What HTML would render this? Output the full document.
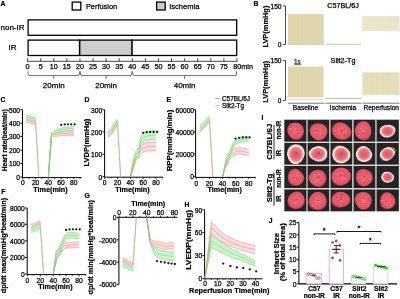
<!DOCTYPE html>
<html><head><meta charset="utf-8"><style>
html,body{margin:0;padding:0;background:#fff;}
body{width:400px;height:299px;overflow:hidden;}
svg{display:block;font-family:"Liberation Sans", sans-serif;filter:blur(0.3px);}
</style></head><body>
<svg width="400" height="299" viewBox="0 0 400 299">
<defs><radialGradient id="gN" cx="50%" cy="48%" r="50%">
<stop offset="0" stop-color="#ea6a77"/><stop offset="0.6" stop-color="#e55b69"/><stop offset="0.9" stop-color="#de5263"/><stop offset="1" stop-color="#a03444"/></radialGradient>
<radialGradient id="gN2" cx="50%" cy="48%" r="50%">
<stop offset="0" stop-color="#e45c6a"/><stop offset="0.55" stop-color="#ec7884"/><stop offset="0.85" stop-color="#f0a0a4"/><stop offset="1" stop-color="#b0606a"/></radialGradient>
<radialGradient id="gI" cx="50%" cy="50%" r="50%">
<stop offset="0" stop-color="#e25464"/><stop offset="0.5" stop-color="#e76a77"/><stop offset="0.7" stop-color="#ee9498"/><stop offset="0.8" stop-color="#f5d4cc"/><stop offset="0.94" stop-color="#f5e6de"/><stop offset="1" stop-color="#8a7a74"/></radialGradient></defs>
<rect width="400" height="299" fill="#fff"/>
<text x="0.40" y="3.45" font-size="6.8" text-anchor="start" dominant-baseline="central" fill="#000" font-weight="bold" stroke="#000" stroke-width="0.2">A</text>
<rect x="72.20" y="2.10" width="8.60" height="7.90" fill="#fff" stroke="#000" stroke-width="1.3"/>
<text x="85.90" y="6.20" font-size="7.8" text-anchor="start" dominant-baseline="central" fill="#000" stroke="#000" stroke-width="0.25" textLength="31.3" lengthAdjust="spacingAndGlyphs">Perfusion</text>
<rect x="156.60" y="2.10" width="8.60" height="7.90" fill="#cdcdcd" stroke="#000" stroke-width="1.3"/>
<text x="169.20" y="6.20" font-size="7.8" text-anchor="start" dominant-baseline="central" fill="#000" stroke="#000" stroke-width="0.25" textLength="30.2" lengthAdjust="spacingAndGlyphs">Ischemia</text>
<text x="24.50" y="27.60" font-size="8" text-anchor="end" dominant-baseline="central" fill="#000" stroke="#000" stroke-width="0.25">non-IR</text>
<rect x="28.10" y="19.90" width="208.60" height="15.40" fill="#fff" stroke="#000" stroke-width="1.3"/>
<text x="12.50" y="47.70" font-size="8" text-anchor="middle" dominant-baseline="central" fill="#000" stroke="#000" stroke-width="0.25">IR</text>
<rect x="79.60" y="40.10" width="52.40" height="15.20" fill="#cecece" stroke="none" stroke-width="1"/>
<rect x="28.10" y="40.10" width="208.60" height="15.40" fill="none" stroke="#000" stroke-width="1.3"/>
<line x1="79.60" y1="39.50" x2="79.60" y2="56.00" stroke="#000" stroke-width="1.6"/>
<line x1="132.00" y1="39.50" x2="132.00" y2="56.00" stroke="#000" stroke-width="1.6"/>
<line x1="27.40" y1="61.30" x2="237.20" y2="61.30" stroke="#333" stroke-width="0.9"/>
<line x1="27.60" y1="58.20" x2="27.60" y2="61.60" stroke="#333" stroke-width="0.9"/>
<line x1="40.69" y1="58.20" x2="40.69" y2="61.60" stroke="#333" stroke-width="0.9"/>
<line x1="53.77" y1="58.20" x2="53.77" y2="61.60" stroke="#333" stroke-width="0.9"/>
<line x1="66.86" y1="58.20" x2="66.86" y2="61.60" stroke="#333" stroke-width="0.9"/>
<line x1="79.94" y1="58.20" x2="79.94" y2="61.60" stroke="#333" stroke-width="0.9"/>
<line x1="93.03" y1="58.20" x2="93.03" y2="61.60" stroke="#333" stroke-width="0.9"/>
<line x1="106.11" y1="58.20" x2="106.11" y2="61.60" stroke="#333" stroke-width="0.9"/>
<line x1="119.19" y1="58.20" x2="119.19" y2="61.60" stroke="#333" stroke-width="0.9"/>
<line x1="132.28" y1="58.20" x2="132.28" y2="61.60" stroke="#333" stroke-width="0.9"/>
<line x1="145.37" y1="58.20" x2="145.37" y2="61.60" stroke="#333" stroke-width="0.9"/>
<line x1="158.45" y1="58.20" x2="158.45" y2="61.60" stroke="#333" stroke-width="0.9"/>
<line x1="171.53" y1="58.20" x2="171.53" y2="61.60" stroke="#333" stroke-width="0.9"/>
<line x1="184.62" y1="58.20" x2="184.62" y2="61.60" stroke="#333" stroke-width="0.9"/>
<line x1="197.70" y1="58.20" x2="197.70" y2="61.60" stroke="#333" stroke-width="0.9"/>
<line x1="210.79" y1="58.20" x2="210.79" y2="61.60" stroke="#333" stroke-width="0.9"/>
<line x1="223.88" y1="58.20" x2="223.88" y2="61.60" stroke="#333" stroke-width="0.9"/>
<line x1="236.96" y1="58.20" x2="236.96" y2="61.60" stroke="#333" stroke-width="0.9"/>
<text x="27.60" y="66.50" font-size="7.2" text-anchor="middle" dominant-baseline="central" fill="#000" stroke="#000" stroke-width="0.25">0</text>
<text x="40.69" y="66.50" font-size="7.2" text-anchor="middle" dominant-baseline="central" fill="#000" stroke="#000" stroke-width="0.25">5</text>
<text x="53.77" y="66.50" font-size="7.2" text-anchor="middle" dominant-baseline="central" fill="#000" stroke="#000" stroke-width="0.25">10</text>
<text x="66.86" y="66.50" font-size="7.2" text-anchor="middle" dominant-baseline="central" fill="#000" stroke="#000" stroke-width="0.25">15</text>
<text x="79.94" y="66.50" font-size="7.2" text-anchor="middle" dominant-baseline="central" fill="#000" stroke="#000" stroke-width="0.25">20</text>
<text x="93.03" y="66.50" font-size="7.2" text-anchor="middle" dominant-baseline="central" fill="#000" stroke="#000" stroke-width="0.25">25</text>
<text x="106.11" y="66.50" font-size="7.2" text-anchor="middle" dominant-baseline="central" fill="#000" stroke="#000" stroke-width="0.25">30</text>
<text x="119.19" y="66.50" font-size="7.2" text-anchor="middle" dominant-baseline="central" fill="#000" stroke="#000" stroke-width="0.25">35</text>
<text x="132.28" y="66.50" font-size="7.2" text-anchor="middle" dominant-baseline="central" fill="#000" stroke="#000" stroke-width="0.25">40</text>
<text x="145.37" y="66.50" font-size="7.2" text-anchor="middle" dominant-baseline="central" fill="#000" stroke="#000" stroke-width="0.25">45</text>
<text x="158.45" y="66.50" font-size="7.2" text-anchor="middle" dominant-baseline="central" fill="#000" stroke="#000" stroke-width="0.25">50</text>
<text x="171.53" y="66.50" font-size="7.2" text-anchor="middle" dominant-baseline="central" fill="#000" stroke="#000" stroke-width="0.25">55</text>
<text x="184.62" y="66.50" font-size="7.2" text-anchor="middle" dominant-baseline="central" fill="#000" stroke="#000" stroke-width="0.25">60</text>
<text x="197.70" y="66.50" font-size="7.2" text-anchor="middle" dominant-baseline="central" fill="#000" stroke="#000" stroke-width="0.25">65</text>
<text x="210.79" y="66.50" font-size="7.2" text-anchor="middle" dominant-baseline="central" fill="#000" stroke="#000" stroke-width="0.25">70</text>
<text x="223.88" y="66.50" font-size="7.2" text-anchor="middle" dominant-baseline="central" fill="#000" stroke="#000" stroke-width="0.25">75</text>
<text x="233.36" y="66.50" font-size="7.2" text-anchor="start" dominant-baseline="central" fill="#000" stroke="#000" stroke-width="0.25">80min</text>
<path d="M28.10,71.3 L28.10,74.0 Q28.10,75.6 29.90,75.6 L77.64,75.6 Q79.44,75.6 79.44,74.0 L79.44,71.3" fill="none" stroke="#555" stroke-width="0.85"/>
<line x1="53.77" y1="75.60" x2="53.77" y2="78.90" stroke="#555" stroke-width="0.85"/>
<text x="53.77" y="85.40" font-size="8" text-anchor="middle" dominant-baseline="central" fill="#000" stroke="#000" stroke-width="0.25">20min</text>
<path d="M80.44,71.3 L80.44,74.0 Q80.44,75.6 82.24,75.6 L129.98,75.6 Q131.78,75.6 131.78,74.0 L131.78,71.3" fill="none" stroke="#555" stroke-width="0.85"/>
<line x1="106.11" y1="75.60" x2="106.11" y2="78.90" stroke="#555" stroke-width="0.85"/>
<text x="106.11" y="85.40" font-size="8" text-anchor="middle" dominant-baseline="central" fill="#000" stroke="#000" stroke-width="0.25">20min</text>
<path d="M132.78,71.3 L132.78,74.0 Q132.78,75.6 134.58,75.6 L234.66,75.6 Q236.46,75.6 236.46,74.0 L236.46,71.3" fill="none" stroke="#555" stroke-width="0.85"/>
<line x1="184.62" y1="75.60" x2="184.62" y2="78.90" stroke="#555" stroke-width="0.85"/>
<text x="184.62" y="85.40" font-size="8" text-anchor="middle" dominant-baseline="central" fill="#000" stroke="#000" stroke-width="0.25">40min</text>
<text x="253.60" y="3.35" font-size="6.8" text-anchor="start" dominant-baseline="central" fill="#000" font-weight="bold" stroke="#000" stroke-width="0.2">B</text>
<line x1="285.50" y1="6.00" x2="285.50" y2="44.50" stroke="#333" stroke-width="0.9"/>
<line x1="282.80" y1="6.00" x2="285.50" y2="6.00" stroke="#333" stroke-width="0.9"/>
<line x1="282.80" y1="44.50" x2="285.50" y2="44.50" stroke="#333" stroke-width="0.9"/>
<text x="281.50" y="6.30" font-size="6.6" text-anchor="end" dominant-baseline="central" fill="#000" stroke="#000" stroke-width="0.25">150</text>
<text x="281.50" y="44.80" font-size="6.6" text-anchor="end" dominant-baseline="central" fill="#000" stroke="#000" stroke-width="0.25">0</text>
<text x="265.40" y="26.60" font-size="7.4" text-anchor="middle" dominant-baseline="central" fill="#000" font-weight="bold" stroke="#000" stroke-width="0.2" transform="rotate(-90 265.40 26.60)" textLength="42" lengthAdjust="spacingAndGlyphs">LVP(mmHg)</text>
<line x1="285.50" y1="60.40" x2="285.50" y2="100.40" stroke="#333" stroke-width="0.9"/>
<line x1="282.80" y1="60.40" x2="285.50" y2="60.40" stroke="#333" stroke-width="0.9"/>
<line x1="282.80" y1="100.40" x2="285.50" y2="100.40" stroke="#333" stroke-width="0.9"/>
<text x="281.50" y="60.70" font-size="6.6" text-anchor="end" dominant-baseline="central" fill="#000" stroke="#000" stroke-width="0.25">150</text>
<text x="281.50" y="100.70" font-size="6.6" text-anchor="end" dominant-baseline="central" fill="#000" stroke="#000" stroke-width="0.25">0</text>
<text x="265.40" y="81.80" font-size="7.4" text-anchor="middle" dominant-baseline="central" fill="#000" font-weight="bold" stroke="#000" stroke-width="0.2" transform="rotate(-90 265.40 81.80)" textLength="42" lengthAdjust="spacingAndGlyphs">LVP(mmHg)</text>
<text x="343.00" y="5.20" font-size="7.2" text-anchor="middle" dominant-baseline="central" fill="#000" stroke="#000" stroke-width="0.25">C57BL/6J</text>
<text x="343.00" y="60.20" font-size="7.2" text-anchor="middle" dominant-baseline="central" fill="#000" stroke="#000" stroke-width="0.25">Slit2-Tg</text>
<text x="297.40" y="61.50" font-size="6.4" text-anchor="middle" dominant-baseline="central" fill="#333" stroke="#333" stroke-width="0.25">1s</text>
<line x1="294.40" y1="64.70" x2="301.40" y2="64.70" stroke="#333" stroke-width="0.7"/>
<rect x="288.00" y="14.00" width="35.80" height="31.20" fill="#e0d8b0" stroke="none" stroke-width="1"/>
<line x1="288.80" y1="14.00" x2="288.80" y2="45.20" stroke="#d8cfa2" stroke-width="0.35"/>
<line x1="291.00" y1="14.00" x2="291.00" y2="45.20" stroke="#d8cfa2" stroke-width="0.35"/>
<line x1="293.20" y1="14.00" x2="293.20" y2="45.20" stroke="#d8cfa2" stroke-width="0.35"/>
<line x1="295.40" y1="14.00" x2="295.40" y2="45.20" stroke="#d8cfa2" stroke-width="0.35"/>
<line x1="297.60" y1="14.00" x2="297.60" y2="45.20" stroke="#d8cfa2" stroke-width="0.35"/>
<line x1="299.80" y1="14.00" x2="299.80" y2="45.20" stroke="#d8cfa2" stroke-width="0.35"/>
<line x1="302.00" y1="14.00" x2="302.00" y2="45.20" stroke="#d8cfa2" stroke-width="0.35"/>
<line x1="304.20" y1="14.00" x2="304.20" y2="45.20" stroke="#d8cfa2" stroke-width="0.35"/>
<line x1="306.40" y1="14.00" x2="306.40" y2="45.20" stroke="#d8cfa2" stroke-width="0.35"/>
<line x1="308.60" y1="14.00" x2="308.60" y2="45.20" stroke="#d8cfa2" stroke-width="0.35"/>
<line x1="310.80" y1="14.00" x2="310.80" y2="45.20" stroke="#d8cfa2" stroke-width="0.35"/>
<line x1="313.00" y1="14.00" x2="313.00" y2="45.20" stroke="#d8cfa2" stroke-width="0.35"/>
<line x1="315.20" y1="14.00" x2="315.20" y2="45.20" stroke="#d8cfa2" stroke-width="0.35"/>
<line x1="317.40" y1="14.00" x2="317.40" y2="45.20" stroke="#d8cfa2" stroke-width="0.35"/>
<line x1="319.60" y1="14.00" x2="319.60" y2="45.20" stroke="#d8cfa2" stroke-width="0.35"/>
<line x1="321.80" y1="14.00" x2="321.80" y2="45.20" stroke="#d8cfa2" stroke-width="0.35"/>
<line x1="326.00" y1="44.30" x2="361.20" y2="44.30" stroke="#bdb48a" stroke-width="0.8"/>
<rect x="362.40" y="16.10" width="37.20" height="14.80" fill="#ede8cc" stroke="none" stroke-width="1"/>
<line x1="363.20" y1="16.10" x2="363.20" y2="30.90" stroke="#e3ddbc" stroke-width="0.35"/>
<line x1="365.40" y1="16.10" x2="365.40" y2="30.90" stroke="#e3ddbc" stroke-width="0.35"/>
<line x1="367.60" y1="16.10" x2="367.60" y2="30.90" stroke="#e3ddbc" stroke-width="0.35"/>
<line x1="369.80" y1="16.10" x2="369.80" y2="30.90" stroke="#e3ddbc" stroke-width="0.35"/>
<line x1="372.00" y1="16.10" x2="372.00" y2="30.90" stroke="#e3ddbc" stroke-width="0.35"/>
<line x1="374.20" y1="16.10" x2="374.20" y2="30.90" stroke="#e3ddbc" stroke-width="0.35"/>
<line x1="376.40" y1="16.10" x2="376.40" y2="30.90" stroke="#e3ddbc" stroke-width="0.35"/>
<line x1="378.60" y1="16.10" x2="378.60" y2="30.90" stroke="#e3ddbc" stroke-width="0.35"/>
<line x1="380.80" y1="16.10" x2="380.80" y2="30.90" stroke="#e3ddbc" stroke-width="0.35"/>
<line x1="383.00" y1="16.10" x2="383.00" y2="30.90" stroke="#e3ddbc" stroke-width="0.35"/>
<line x1="385.20" y1="16.10" x2="385.20" y2="30.90" stroke="#e3ddbc" stroke-width="0.35"/>
<line x1="387.40" y1="16.10" x2="387.40" y2="30.90" stroke="#e3ddbc" stroke-width="0.35"/>
<line x1="389.60" y1="16.10" x2="389.60" y2="30.90" stroke="#e3ddbc" stroke-width="0.35"/>
<line x1="391.80" y1="16.10" x2="391.80" y2="30.90" stroke="#e3ddbc" stroke-width="0.35"/>
<line x1="394.00" y1="16.10" x2="394.00" y2="30.90" stroke="#e3ddbc" stroke-width="0.35"/>
<line x1="396.20" y1="16.10" x2="396.20" y2="30.90" stroke="#e3ddbc" stroke-width="0.35"/>
<line x1="398.40" y1="16.10" x2="398.40" y2="30.90" stroke="#e3ddbc" stroke-width="0.35"/>
<rect x="288.00" y="66.60" width="35.60" height="30.80" fill="#e0d8b0" stroke="none" stroke-width="1"/>
<line x1="288.80" y1="66.60" x2="288.80" y2="97.40" stroke="#d8cfa2" stroke-width="0.35"/>
<line x1="291.00" y1="66.60" x2="291.00" y2="97.40" stroke="#d8cfa2" stroke-width="0.35"/>
<line x1="293.20" y1="66.60" x2="293.20" y2="97.40" stroke="#d8cfa2" stroke-width="0.35"/>
<line x1="295.40" y1="66.60" x2="295.40" y2="97.40" stroke="#d8cfa2" stroke-width="0.35"/>
<line x1="297.60" y1="66.60" x2="297.60" y2="97.40" stroke="#d8cfa2" stroke-width="0.35"/>
<line x1="299.80" y1="66.60" x2="299.80" y2="97.40" stroke="#d8cfa2" stroke-width="0.35"/>
<line x1="302.00" y1="66.60" x2="302.00" y2="97.40" stroke="#d8cfa2" stroke-width="0.35"/>
<line x1="304.20" y1="66.60" x2="304.20" y2="97.40" stroke="#d8cfa2" stroke-width="0.35"/>
<line x1="306.40" y1="66.60" x2="306.40" y2="97.40" stroke="#d8cfa2" stroke-width="0.35"/>
<line x1="308.60" y1="66.60" x2="308.60" y2="97.40" stroke="#d8cfa2" stroke-width="0.35"/>
<line x1="310.80" y1="66.60" x2="310.80" y2="97.40" stroke="#d8cfa2" stroke-width="0.35"/>
<line x1="313.00" y1="66.60" x2="313.00" y2="97.40" stroke="#d8cfa2" stroke-width="0.35"/>
<line x1="315.20" y1="66.60" x2="315.20" y2="97.40" stroke="#d8cfa2" stroke-width="0.35"/>
<line x1="317.40" y1="66.60" x2="317.40" y2="97.40" stroke="#d8cfa2" stroke-width="0.35"/>
<line x1="319.60" y1="66.60" x2="319.60" y2="97.40" stroke="#d8cfa2" stroke-width="0.35"/>
<line x1="321.80" y1="66.60" x2="321.80" y2="97.40" stroke="#d8cfa2" stroke-width="0.35"/>
<line x1="288.00" y1="99.40" x2="323.60" y2="99.40" stroke="#c9c3a0" stroke-width="0.6"/>
<line x1="325.50" y1="98.50" x2="361.20" y2="98.50" stroke="#bdb48a" stroke-width="0.8"/>
<rect x="362.50" y="72.40" width="37.10" height="22.50" fill="#e6dfbb" stroke="none" stroke-width="1"/>
<line x1="363.30" y1="72.40" x2="363.30" y2="94.90" stroke="#ddd6ae" stroke-width="0.35"/>
<line x1="365.50" y1="72.40" x2="365.50" y2="94.90" stroke="#ddd6ae" stroke-width="0.35"/>
<line x1="367.70" y1="72.40" x2="367.70" y2="94.90" stroke="#ddd6ae" stroke-width="0.35"/>
<line x1="369.90" y1="72.40" x2="369.90" y2="94.90" stroke="#ddd6ae" stroke-width="0.35"/>
<line x1="372.10" y1="72.40" x2="372.10" y2="94.90" stroke="#ddd6ae" stroke-width="0.35"/>
<line x1="374.30" y1="72.40" x2="374.30" y2="94.90" stroke="#ddd6ae" stroke-width="0.35"/>
<line x1="376.50" y1="72.40" x2="376.50" y2="94.90" stroke="#ddd6ae" stroke-width="0.35"/>
<line x1="378.70" y1="72.40" x2="378.70" y2="94.90" stroke="#ddd6ae" stroke-width="0.35"/>
<line x1="380.90" y1="72.40" x2="380.90" y2="94.90" stroke="#ddd6ae" stroke-width="0.35"/>
<line x1="383.10" y1="72.40" x2="383.10" y2="94.90" stroke="#ddd6ae" stroke-width="0.35"/>
<line x1="385.30" y1="72.40" x2="385.30" y2="94.90" stroke="#ddd6ae" stroke-width="0.35"/>
<line x1="387.50" y1="72.40" x2="387.50" y2="94.90" stroke="#ddd6ae" stroke-width="0.35"/>
<line x1="389.70" y1="72.40" x2="389.70" y2="94.90" stroke="#ddd6ae" stroke-width="0.35"/>
<line x1="391.90" y1="72.40" x2="391.90" y2="94.90" stroke="#ddd6ae" stroke-width="0.35"/>
<line x1="394.10" y1="72.40" x2="394.10" y2="94.90" stroke="#ddd6ae" stroke-width="0.35"/>
<line x1="396.30" y1="72.40" x2="396.30" y2="94.90" stroke="#ddd6ae" stroke-width="0.35"/>
<line x1="398.50" y1="72.40" x2="398.50" y2="94.90" stroke="#ddd6ae" stroke-width="0.35"/>
<line x1="288.00" y1="103.20" x2="324.20" y2="103.20" stroke="#555" stroke-width="0.8"/>
<line x1="325.30" y1="103.20" x2="361.50" y2="103.20" stroke="#555" stroke-width="0.8"/>
<line x1="362.60" y1="103.20" x2="399.50" y2="103.20" stroke="#555" stroke-width="0.8"/>
<text x="305.50" y="107.90" font-size="6.6" text-anchor="middle" dominant-baseline="central" fill="#000" stroke="#000" stroke-width="0.25">Baseline</text>
<text x="343.00" y="107.90" font-size="6.6" text-anchor="middle" dominant-baseline="central" fill="#000" stroke="#000" stroke-width="0.25">Ischemia</text>
<text x="381.20" y="107.90" font-size="6.6" text-anchor="middle" dominant-baseline="central" fill="#000" stroke="#000" stroke-width="0.25">Reperfusion</text>
<text x="0.40" y="99.45" font-size="6.8" text-anchor="start" dominant-baseline="central" fill="#000" font-weight="bold" stroke="#000" stroke-width="0.2">C</text>
<line x1="22.50" y1="109.70" x2="22.50" y2="177.60" stroke="#000" stroke-width="1.0"/>
<line x1="20.30" y1="109.70" x2="22.50" y2="109.70" stroke="#000" stroke-width="0.9"/>
<text x="20.10" y="110.00" font-size="6.7" text-anchor="end" dominant-baseline="central" fill="#000" stroke="#000" stroke-width="0.25">500</text>
<line x1="20.30" y1="123.20" x2="22.50" y2="123.20" stroke="#000" stroke-width="0.9"/>
<text x="20.10" y="123.50" font-size="6.7" text-anchor="end" dominant-baseline="central" fill="#000" stroke="#000" stroke-width="0.25">400</text>
<line x1="20.30" y1="136.60" x2="22.50" y2="136.60" stroke="#000" stroke-width="0.9"/>
<text x="20.10" y="136.90" font-size="6.7" text-anchor="end" dominant-baseline="central" fill="#000" stroke="#000" stroke-width="0.25">300</text>
<line x1="20.30" y1="150.10" x2="22.50" y2="150.10" stroke="#000" stroke-width="0.9"/>
<text x="20.10" y="150.40" font-size="6.7" text-anchor="end" dominant-baseline="central" fill="#000" stroke="#000" stroke-width="0.25">200</text>
<line x1="20.30" y1="163.50" x2="22.50" y2="163.50" stroke="#000" stroke-width="0.9"/>
<text x="20.10" y="163.80" font-size="6.7" text-anchor="end" dominant-baseline="central" fill="#000" stroke="#000" stroke-width="0.25">100</text>
<line x1="20.30" y1="177.00" x2="22.50" y2="177.00" stroke="#000" stroke-width="0.9"/>
<text x="20.10" y="177.30" font-size="6.7" text-anchor="end" dominant-baseline="central" fill="#000" stroke="#000" stroke-width="0.25">0</text>
<line x1="22.50" y1="177.60" x2="81.50" y2="177.60" stroke="#000" stroke-width="1.0"/>
<line x1="22.90" y1="177.60" x2="22.90" y2="179.40" stroke="#000" stroke-width="0.8"/>
<line x1="29.26" y1="177.60" x2="29.26" y2="178.70" stroke="#000" stroke-width="0.8"/>
<line x1="35.62" y1="177.60" x2="35.62" y2="179.40" stroke="#000" stroke-width="0.8"/>
<line x1="41.98" y1="177.60" x2="41.98" y2="178.70" stroke="#000" stroke-width="0.8"/>
<line x1="48.34" y1="177.60" x2="48.34" y2="179.40" stroke="#000" stroke-width="0.8"/>
<line x1="54.70" y1="177.60" x2="54.70" y2="178.70" stroke="#000" stroke-width="0.8"/>
<line x1="61.06" y1="177.60" x2="61.06" y2="179.40" stroke="#000" stroke-width="0.8"/>
<line x1="67.42" y1="177.60" x2="67.42" y2="178.70" stroke="#000" stroke-width="0.8"/>
<line x1="73.78" y1="177.60" x2="73.78" y2="179.40" stroke="#000" stroke-width="0.8"/>
<line x1="80.14" y1="177.60" x2="80.14" y2="178.70" stroke="#000" stroke-width="0.8"/>
<text x="22.90" y="182.60" font-size="6.7" text-anchor="middle" dominant-baseline="central" fill="#000" stroke="#000" stroke-width="0.25">0</text>
<text x="35.62" y="182.60" font-size="6.7" text-anchor="middle" dominant-baseline="central" fill="#000" stroke="#000" stroke-width="0.25">20</text>
<text x="48.34" y="182.60" font-size="6.7" text-anchor="middle" dominant-baseline="central" fill="#000" stroke="#000" stroke-width="0.25">40</text>
<text x="61.06" y="182.60" font-size="6.7" text-anchor="middle" dominant-baseline="central" fill="#000" stroke="#000" stroke-width="0.25">60</text>
<text x="73.78" y="182.60" font-size="6.7" text-anchor="middle" dominant-baseline="central" fill="#000" stroke="#000" stroke-width="0.25">80</text>
<text x="50.50" y="189.60" font-size="7.1" text-anchor="middle" dominant-baseline="central" fill="#000" font-weight="bold" stroke="#000" stroke-width="0.2" textLength="34.4" lengthAdjust="spacingAndGlyphs">Time(min)</text>
<text x="4.10" y="140.20" font-size="7.2" text-anchor="middle" dominant-baseline="central" fill="#000" font-weight="bold" stroke="#000" stroke-width="0.2" transform="rotate(-90 4.10 140.20)" textLength="62" lengthAdjust="spacingAndGlyphs">Heart rate(beat/min)</text>
<path d="M26.08,118.60 L29.26,119.47 L32.44,120.33 L35.62,121.20 L35.62,124.60 L32.44,123.73 L29.26,122.87 L26.08,122.00 Z" fill="#fbd8da" stroke="none" stroke-width="1" fill-opacity="0.85"/>
<path d="M26.08,118.60 L29.26,119.47 L32.44,120.33 L35.62,121.20" fill="none" stroke="#e48c94" stroke-width="0.6" stroke-linejoin="round"/>
<path d="M26.08,122.00 L29.26,122.87 L32.44,123.73 L35.62,124.60" fill="none" stroke="#e48c94" stroke-width="0.6" stroke-linejoin="round"/>
<path d="M26.08,120.30 L29.26,121.17 L32.44,122.03 L35.62,122.90" fill="none" stroke="#e48c94" stroke-width="0.6" stroke-linejoin="round"/>
<path d="M35.62,122.90 L38.80,177.30" fill="none" stroke="#e48c94" stroke-width="0.6"/>
<path d="M48.34,177.30 L51.52,133.80 L54.70,132.40 L57.88,132.00 L61.06,131.80 L64.24,131.70 L67.42,131.70 L70.60,131.70 L73.78,131.70 L73.78,135.70 L70.60,135.70 L67.42,135.70 L64.24,135.70 L61.06,135.80 L57.88,136.00 L54.70,136.40 L51.52,136.20 L48.34,177.30 Z" fill="#fbd8da" stroke="none" stroke-width="1" fill-opacity="0.85"/>
<path d="M48.34,177.30 L51.52,133.80 L54.70,132.40 L57.88,132.00 L61.06,131.80 L64.24,131.70 L67.42,131.70 L70.60,131.70 L73.78,131.70" fill="none" stroke="#e48c94" stroke-width="0.6" stroke-linejoin="round"/>
<path d="M48.34,177.30 L51.52,136.20 L54.70,136.40 L57.88,136.00 L61.06,135.80 L64.24,135.70 L67.42,135.70 L70.60,135.70 L73.78,135.70" fill="none" stroke="#e48c94" stroke-width="0.6" stroke-linejoin="round"/>
<path d="M48.34,177.30 L51.52,135.00 L54.70,134.40 L57.88,134.00 L61.06,133.80 L64.24,133.70 L67.42,133.70 L70.60,133.70 L73.78,133.70" fill="none" stroke="#e48c94" stroke-width="0.6" stroke-linejoin="round"/>
<path d="M26.08,114.90 L29.26,115.77 L32.44,116.63 L35.62,117.50 L35.62,121.50 L32.44,120.63 L29.26,119.77 L26.08,118.90 Z" fill="#c4f3c4" stroke="none" stroke-width="1" fill-opacity="0.85"/>
<path d="M26.08,114.90 L29.26,115.77 L32.44,116.63 L35.62,117.50" fill="none" stroke="#72d872" stroke-width="0.6" stroke-linejoin="round"/>
<path d="M26.08,118.90 L29.26,119.77 L32.44,120.63 L35.62,121.50" fill="none" stroke="#72d872" stroke-width="0.6" stroke-linejoin="round"/>
<path d="M26.08,116.90 L29.26,117.77 L32.44,118.63 L35.62,119.50" fill="none" stroke="#72d872" stroke-width="0.6" stroke-linejoin="round"/>
<path d="M35.62,119.50 L38.80,177.30" fill="none" stroke="#72d872" stroke-width="0.6"/>
<path d="M48.34,177.30 L51.52,133.46 L54.70,130.70 L57.88,129.10 L61.06,128.10 L64.24,127.40 L67.42,127.00 L70.60,126.70 L73.78,126.60 L73.78,130.40 L70.60,130.50 L67.42,130.80 L64.24,131.20 L61.06,131.90 L57.88,132.90 L54.70,134.50 L51.52,135.74 L48.34,177.30 Z" fill="#c4f3c4" stroke="none" stroke-width="1" fill-opacity="0.85"/>
<path d="M48.34,177.30 L51.52,133.46 L54.70,130.70 L57.88,129.10 L61.06,128.10 L64.24,127.40 L67.42,127.00 L70.60,126.70 L73.78,126.60" fill="none" stroke="#72d872" stroke-width="0.6" stroke-linejoin="round"/>
<path d="M48.34,177.30 L51.52,135.74 L54.70,134.50 L57.88,132.90 L61.06,131.90 L64.24,131.20 L67.42,130.80 L70.60,130.50 L73.78,130.40" fill="none" stroke="#72d872" stroke-width="0.6" stroke-linejoin="round"/>
<path d="M48.34,177.30 L51.52,134.60 L54.70,132.60 L57.88,131.00 L61.06,130.00 L64.24,129.30 L67.42,128.90 L70.60,128.60 L73.78,128.50" fill="none" stroke="#72d872" stroke-width="0.6" stroke-linejoin="round"/>
<circle cx="61.20" cy="124.90" r="1.15" fill="#1a1a1a" stroke="none" stroke-width="1"/>
<circle cx="64.70" cy="124.40" r="1.15" fill="#1a1a1a" stroke="none" stroke-width="1"/>
<circle cx="67.90" cy="124.30" r="1.15" fill="#1a1a1a" stroke="none" stroke-width="1"/>
<circle cx="71.10" cy="124.30" r="1.15" fill="#1a1a1a" stroke="none" stroke-width="1"/>
<circle cx="74.60" cy="124.40" r="1.15" fill="#1a1a1a" stroke="none" stroke-width="1"/>
<text x="84.40" y="99.45" font-size="6.8" text-anchor="start" dominant-baseline="central" fill="#000" font-weight="bold" stroke="#000" stroke-width="0.2">D</text>
<line x1="104.60" y1="109.70" x2="104.60" y2="177.20" stroke="#000" stroke-width="1.0"/>
<line x1="102.40" y1="109.70" x2="104.60" y2="109.70" stroke="#000" stroke-width="0.9"/>
<text x="102.20" y="110.00" font-size="6.7" text-anchor="end" dominant-baseline="central" fill="#000" stroke="#000" stroke-width="0.25">300</text>
<line x1="102.40" y1="131.90" x2="104.60" y2="131.90" stroke="#000" stroke-width="0.9"/>
<text x="102.20" y="132.20" font-size="6.7" text-anchor="end" dominant-baseline="central" fill="#000" stroke="#000" stroke-width="0.25">200</text>
<line x1="102.40" y1="154.30" x2="104.60" y2="154.30" stroke="#000" stroke-width="0.9"/>
<text x="102.20" y="154.60" font-size="6.7" text-anchor="end" dominant-baseline="central" fill="#000" stroke="#000" stroke-width="0.25">100</text>
<line x1="102.40" y1="176.70" x2="104.60" y2="176.70" stroke="#000" stroke-width="0.9"/>
<text x="102.20" y="177.00" font-size="6.7" text-anchor="end" dominant-baseline="central" fill="#000" stroke="#000" stroke-width="0.25">0</text>
<line x1="104.60" y1="177.20" x2="163.00" y2="177.20" stroke="#000" stroke-width="1.0"/>
<line x1="104.60" y1="177.20" x2="104.60" y2="179.00" stroke="#000" stroke-width="0.8"/>
<line x1="111.03" y1="177.20" x2="111.03" y2="178.30" stroke="#000" stroke-width="0.8"/>
<line x1="117.46" y1="177.20" x2="117.46" y2="179.00" stroke="#000" stroke-width="0.8"/>
<line x1="123.89" y1="177.20" x2="123.89" y2="178.30" stroke="#000" stroke-width="0.8"/>
<line x1="130.32" y1="177.20" x2="130.32" y2="179.00" stroke="#000" stroke-width="0.8"/>
<line x1="136.75" y1="177.20" x2="136.75" y2="178.30" stroke="#000" stroke-width="0.8"/>
<line x1="143.18" y1="177.20" x2="143.18" y2="179.00" stroke="#000" stroke-width="0.8"/>
<line x1="149.61" y1="177.20" x2="149.61" y2="178.30" stroke="#000" stroke-width="0.8"/>
<line x1="156.04" y1="177.20" x2="156.04" y2="179.00" stroke="#000" stroke-width="0.8"/>
<line x1="162.47" y1="177.20" x2="162.47" y2="178.30" stroke="#000" stroke-width="0.8"/>
<text x="104.60" y="182.60" font-size="6.7" text-anchor="middle" dominant-baseline="central" fill="#000" stroke="#000" stroke-width="0.25">0</text>
<text x="117.46" y="182.60" font-size="6.7" text-anchor="middle" dominant-baseline="central" fill="#000" stroke="#000" stroke-width="0.25">20</text>
<text x="130.32" y="182.60" font-size="6.7" text-anchor="middle" dominant-baseline="central" fill="#000" stroke="#000" stroke-width="0.25">40</text>
<text x="143.18" y="182.60" font-size="6.7" text-anchor="middle" dominant-baseline="central" fill="#000" stroke="#000" stroke-width="0.25">60</text>
<text x="156.04" y="182.60" font-size="6.7" text-anchor="middle" dominant-baseline="central" fill="#000" stroke="#000" stroke-width="0.25">80</text>
<text x="132.50" y="189.60" font-size="7.1" text-anchor="middle" dominant-baseline="central" fill="#000" font-weight="bold" stroke="#000" stroke-width="0.2" textLength="34.4" lengthAdjust="spacingAndGlyphs">Time(min)</text>
<text x="86.40" y="142.60" font-size="7.4" text-anchor="middle" dominant-baseline="central" fill="#000" font-weight="bold" stroke="#000" stroke-width="0.2" transform="rotate(-90 86.40 142.60)" textLength="48" lengthAdjust="spacingAndGlyphs">LVDP(mmHg)</text>
<path d="M107.81,133.50 L108.39,133.09 L109.22,132.51 L110.15,131.78 L111.03,130.90 L111.83,129.81 L112.64,128.54 L113.44,127.19 L114.24,125.90 L115.12,124.57 L116.05,123.19 L116.88,121.96 L117.46,121.10 L117.46,124.90 L116.88,125.76 L116.05,126.99 L115.12,128.37 L114.24,129.70 L113.44,130.99 L112.64,132.34 L111.83,133.61 L111.03,134.70 L110.15,135.58 L109.22,136.31 L108.39,136.89 L107.81,137.30 Z" fill="#fbd8da" stroke="none" stroke-width="1" fill-opacity="0.85"/>
<path d="M107.81,133.50 L108.39,133.09 L109.22,132.51 L110.15,131.78 L111.03,130.90 L111.83,129.81 L112.64,128.54 L113.44,127.19 L114.24,125.90 L115.12,124.57 L116.05,123.19 L116.88,121.96 L117.46,121.10" fill="none" stroke="#e48c94" stroke-width="0.6" stroke-linejoin="round"/>
<path d="M107.81,137.30 L108.39,136.89 L109.22,136.31 L110.15,135.58 L111.03,134.70 L111.83,133.61 L112.64,132.34 L113.44,130.99 L114.24,129.70 L115.12,128.37 L116.05,126.99 L116.88,125.76 L117.46,124.90" fill="none" stroke="#e48c94" stroke-width="0.6" stroke-linejoin="round"/>
<path d="M107.81,135.40 L108.39,134.99 L109.22,134.41 L110.15,133.68 L111.03,132.80 L111.83,131.71 L112.64,130.44 L113.44,129.09 L114.24,127.80 L115.12,126.47 L116.05,125.09 L116.88,123.86 L117.46,123.00" fill="none" stroke="#e48c94" stroke-width="0.6" stroke-linejoin="round"/>
<path d="M117.46,123.00 L120.67,176.80" fill="none" stroke="#e48c94" stroke-width="0.6"/>
<path d="M130.32,176.80 L132.25,169.50 L132.93,166.65 L133.90,162.53 L135.01,158.17 L136.11,154.60 L137.22,152.07 L138.40,150.03 L139.56,148.35 L140.61,146.90 L141.44,145.72 L142.14,144.84 L142.87,144.17 L143.82,143.60 L145.07,143.13 L146.52,142.82 L148.06,142.59 L149.61,142.40 L151.32,142.23 L153.19,142.12 L154.87,142.05 L156.04,142.00 L156.04,150.40 L154.87,150.46 L153.19,150.55 L151.32,150.66 L149.61,150.80 L148.06,150.92 L146.52,151.04 L145.07,151.24 L143.82,151.60 L142.87,152.10 L142.14,152.72 L141.44,153.50 L140.61,154.50 L139.56,155.66 L138.40,156.99 L137.22,158.59 L136.11,160.60 L135.01,163.45 L133.90,166.93 L132.93,170.23 L132.25,172.50 L130.32,176.80 Z" fill="#fbd8da" stroke="none" stroke-width="1" fill-opacity="0.85"/>
<path d="M130.32,176.80 L132.25,169.50 L132.93,166.65 L133.90,162.53 L135.01,158.17 L136.11,154.60 L137.22,152.07 L138.40,150.03 L139.56,148.35 L140.61,146.90 L141.44,145.72 L142.14,144.84 L142.87,144.17 L143.82,143.60 L145.07,143.13 L146.52,142.82 L148.06,142.59 L149.61,142.40 L151.32,142.23 L153.19,142.12 L154.87,142.05 L156.04,142.00" fill="none" stroke="#e48c94" stroke-width="0.6" stroke-linejoin="round"/>
<path d="M130.32,176.80 L132.25,172.50 L132.93,170.23 L133.90,166.93 L135.01,163.45 L136.11,160.60 L137.22,158.59 L138.40,156.99 L139.56,155.66 L140.61,154.50 L141.44,153.50 L142.14,152.72 L142.87,152.10 L143.82,151.60 L145.07,151.24 L146.52,151.04 L148.06,150.92 L149.61,150.80 L151.32,150.66 L153.19,150.55 L154.87,150.46 L156.04,150.40" fill="none" stroke="#e48c94" stroke-width="0.6" stroke-linejoin="round"/>
<path d="M130.32,176.80 L132.25,171.00 L132.93,168.44 L133.90,164.73 L135.01,160.81 L136.11,157.60 L137.22,155.33 L138.40,153.51 L139.56,152.01 L140.61,150.70 L141.44,149.61 L142.14,148.78 L142.87,148.14 L143.82,147.60 L145.07,147.19 L146.52,146.93 L148.06,146.76 L149.61,146.60 L151.32,146.45 L153.19,146.34 L154.87,146.26 L156.04,146.20" fill="none" stroke="#e48c94" stroke-width="0.6" stroke-linejoin="round"/>
<path d="M107.81,130.70 L108.39,130.22 L109.22,129.55 L110.15,128.73 L111.03,127.80 L111.83,126.72 L112.64,125.48 L113.44,124.20 L114.24,123.00 L115.12,121.81 L116.05,120.60 L116.88,119.54 L117.46,118.80 L117.46,123.80 L116.88,124.65 L116.05,125.88 L115.12,127.26 L114.24,128.60 L113.44,129.93 L112.64,131.33 L111.83,132.67 L111.03,133.80 L110.15,134.71 L109.22,135.48 L108.39,136.07 L107.81,136.50 Z" fill="#c4f3c4" stroke="none" stroke-width="1" fill-opacity="0.85"/>
<path d="M107.81,130.70 L108.39,130.22 L109.22,129.55 L110.15,128.73 L111.03,127.80 L111.83,126.72 L112.64,125.48 L113.44,124.20 L114.24,123.00 L115.12,121.81 L116.05,120.60 L116.88,119.54 L117.46,118.80" fill="none" stroke="#72d872" stroke-width="0.6" stroke-linejoin="round"/>
<path d="M107.81,136.50 L108.39,136.07 L109.22,135.48 L110.15,134.71 L111.03,133.80 L111.83,132.67 L112.64,131.33 L113.44,129.93 L114.24,128.60 L115.12,127.26 L116.05,125.88 L116.88,124.65 L117.46,123.80" fill="none" stroke="#72d872" stroke-width="0.6" stroke-linejoin="round"/>
<path d="M107.81,133.60 L108.39,133.15 L109.22,132.51 L110.15,131.72 L111.03,130.80 L111.83,129.69 L112.64,128.41 L113.44,127.07 L114.24,125.80 L115.12,124.53 L116.05,123.24 L116.88,122.10 L117.46,121.30" fill="none" stroke="#72d872" stroke-width="0.6" stroke-linejoin="round"/>
<path d="M117.46,121.30 L120.67,176.80" fill="none" stroke="#72d872" stroke-width="0.6"/>
<path d="M130.32,176.80 L133.53,158.50 L134.00,156.97 L134.66,154.76 L135.40,152.46 L136.11,150.70 L136.77,149.91 L137.43,149.66 L138.08,149.31 L138.68,148.20 L139.18,145.85 L139.60,142.71 L140.05,139.51 L140.61,137.00 L141.34,135.38 L142.18,134.26 L143.03,133.45 L143.82,132.80 L144.50,132.33 L145.11,132.12 L145.72,132.02 L146.39,131.90 L147.08,131.76 L147.76,131.65 L148.57,131.54 L149.61,131.40 L151.14,131.18 L153.03,130.92 L154.81,130.67 L156.04,130.50 L156.04,139.10 L154.81,139.27 L153.03,139.52 L151.14,139.78 L149.61,140.00 L148.57,140.15 L147.76,140.26 L147.08,140.37 L146.39,140.50 L145.72,140.59 L145.11,140.64 L144.50,140.80 L143.82,141.20 L143.03,141.77 L142.18,142.47 L141.34,143.49 L140.61,145.00 L140.05,147.43 L139.60,150.54 L139.18,153.59 L138.68,155.80 L138.08,156.72 L137.43,156.84 L136.77,156.81 L136.11,157.30 L135.40,158.66 L134.66,160.49 L134.00,162.28 L133.53,163.50 L130.32,176.80 Z" fill="#c4f3c4" stroke="none" stroke-width="1" fill-opacity="0.85"/>
<path d="M130.32,176.80 L133.53,158.50 L134.00,156.97 L134.66,154.76 L135.40,152.46 L136.11,150.70 L136.77,149.91 L137.43,149.66 L138.08,149.31 L138.68,148.20 L139.18,145.85 L139.60,142.71 L140.05,139.51 L140.61,137.00 L141.34,135.38 L142.18,134.26 L143.03,133.45 L143.82,132.80 L144.50,132.33 L145.11,132.12 L145.72,132.02 L146.39,131.90 L147.08,131.76 L147.76,131.65 L148.57,131.54 L149.61,131.40 L151.14,131.18 L153.03,130.92 L154.81,130.67 L156.04,130.50" fill="none" stroke="#72d872" stroke-width="0.6" stroke-linejoin="round"/>
<path d="M130.32,176.80 L133.53,163.50 L134.00,162.28 L134.66,160.49 L135.40,158.66 L136.11,157.30 L136.77,156.81 L137.43,156.84 L138.08,156.72 L138.68,155.80 L139.18,153.59 L139.60,150.54 L140.05,147.43 L140.61,145.00 L141.34,143.49 L142.18,142.47 L143.03,141.77 L143.82,141.20 L144.50,140.80 L145.11,140.64 L145.72,140.59 L146.39,140.50 L147.08,140.37 L147.76,140.26 L148.57,140.15 L149.61,140.00 L151.14,139.78 L153.03,139.52 L154.81,139.27 L156.04,139.10" fill="none" stroke="#72d872" stroke-width="0.6" stroke-linejoin="round"/>
<path d="M130.32,176.80 L133.53,161.00 L134.00,159.62 L134.66,157.62 L135.40,155.56 L136.11,154.00 L136.77,153.36 L137.43,153.25 L138.08,153.02 L138.68,152.00 L139.18,149.72 L139.60,146.62 L140.05,143.47 L140.61,141.00 L141.34,139.43 L142.18,138.36 L143.03,137.61 L143.82,137.00 L144.50,136.57 L145.11,136.38 L145.72,136.30 L146.39,136.20 L147.08,136.06 L147.76,135.96 L148.57,135.85 L149.61,135.70 L151.14,135.48 L153.03,135.22 L154.81,134.97 L156.04,134.80" fill="none" stroke="#72d872" stroke-width="0.6" stroke-linejoin="round"/>
<circle cx="143.20" cy="132.80" r="1.15" fill="#1a1a1a" stroke="none" stroke-width="1"/>
<circle cx="146.80" cy="132.20" r="1.15" fill="#1a1a1a" stroke="none" stroke-width="1"/>
<circle cx="150.20" cy="132.00" r="1.15" fill="#1a1a1a" stroke="none" stroke-width="1"/>
<circle cx="153.60" cy="132.00" r="1.15" fill="#1a1a1a" stroke="none" stroke-width="1"/>
<circle cx="157.20" cy="132.00" r="1.15" fill="#1a1a1a" stroke="none" stroke-width="1"/>
<text x="166.40" y="99.75" font-size="6.8" text-anchor="start" dominant-baseline="central" fill="#000" font-weight="bold" stroke="#000" stroke-width="0.2">E</text>
<line x1="195.60" y1="109.70" x2="195.60" y2="177.40" stroke="#000" stroke-width="1.0"/>
<line x1="193.40" y1="109.70" x2="195.60" y2="109.70" stroke="#000" stroke-width="0.9"/>
<text x="194.10" y="110.00" font-size="6.7" text-anchor="end" dominant-baseline="central" fill="#000" stroke="#000" stroke-width="0.25">60000</text>
<line x1="193.40" y1="132.00" x2="195.60" y2="132.00" stroke="#000" stroke-width="0.9"/>
<text x="194.10" y="132.30" font-size="6.7" text-anchor="end" dominant-baseline="central" fill="#000" stroke="#000" stroke-width="0.25">40000</text>
<line x1="193.40" y1="154.00" x2="195.60" y2="154.00" stroke="#000" stroke-width="0.9"/>
<text x="194.10" y="154.30" font-size="6.7" text-anchor="end" dominant-baseline="central" fill="#000" stroke="#000" stroke-width="0.25">20000</text>
<line x1="193.40" y1="176.40" x2="195.60" y2="176.40" stroke="#000" stroke-width="0.9"/>
<text x="194.10" y="176.70" font-size="6.7" text-anchor="end" dominant-baseline="central" fill="#000" stroke="#000" stroke-width="0.25">0</text>
<line x1="195.60" y1="177.40" x2="255.60" y2="177.40" stroke="#000" stroke-width="1.0"/>
<line x1="196.40" y1="177.40" x2="196.40" y2="179.20" stroke="#000" stroke-width="0.8"/>
<line x1="202.95" y1="177.40" x2="202.95" y2="178.50" stroke="#000" stroke-width="0.8"/>
<line x1="209.50" y1="177.40" x2="209.50" y2="179.20" stroke="#000" stroke-width="0.8"/>
<line x1="216.05" y1="177.40" x2="216.05" y2="178.50" stroke="#000" stroke-width="0.8"/>
<line x1="222.60" y1="177.40" x2="222.60" y2="179.20" stroke="#000" stroke-width="0.8"/>
<line x1="229.15" y1="177.40" x2="229.15" y2="178.50" stroke="#000" stroke-width="0.8"/>
<line x1="235.70" y1="177.40" x2="235.70" y2="179.20" stroke="#000" stroke-width="0.8"/>
<line x1="242.25" y1="177.40" x2="242.25" y2="178.50" stroke="#000" stroke-width="0.8"/>
<line x1="248.80" y1="177.40" x2="248.80" y2="179.20" stroke="#000" stroke-width="0.8"/>
<line x1="255.35" y1="177.40" x2="255.35" y2="178.50" stroke="#000" stroke-width="0.8"/>
<text x="196.40" y="183.00" font-size="6.7" text-anchor="middle" dominant-baseline="central" fill="#000" stroke="#000" stroke-width="0.25">0</text>
<text x="209.50" y="183.00" font-size="6.7" text-anchor="middle" dominant-baseline="central" fill="#000" stroke="#000" stroke-width="0.25">20</text>
<text x="222.60" y="183.00" font-size="6.7" text-anchor="middle" dominant-baseline="central" fill="#000" stroke="#000" stroke-width="0.25">40</text>
<text x="235.70" y="183.00" font-size="6.7" text-anchor="middle" dominant-baseline="central" fill="#000" stroke="#000" stroke-width="0.25">60</text>
<text x="248.80" y="183.00" font-size="6.7" text-anchor="middle" dominant-baseline="central" fill="#000" stroke="#000" stroke-width="0.25">80</text>
<text x="224.70" y="190.00" font-size="7.1" text-anchor="middle" dominant-baseline="central" fill="#000" font-weight="bold" stroke="#000" stroke-width="0.2" textLength="34.4" lengthAdjust="spacingAndGlyphs">Time(min)</text>
<text x="169.20" y="140.50" font-size="7.4" text-anchor="middle" dominant-baseline="central" fill="#000" font-weight="bold" stroke="#000" stroke-width="0.2" transform="rotate(-90 169.20 140.50)" textLength="61.5" lengthAdjust="spacingAndGlyphs">RPP(mmHg/min)</text>
<path d="M199.68,128.70 L200.26,128.18 L201.11,127.44 L202.05,126.58 L202.95,125.70 L203.77,124.79 L204.59,123.80 L205.41,122.81 L206.22,121.90 L207.12,121.02 L208.07,120.16 L208.91,119.42 L209.50,118.90 L209.50,122.70 L208.91,123.22 L208.07,123.96 L207.12,124.82 L206.22,125.70 L205.41,126.61 L204.59,127.60 L203.77,128.59 L202.95,129.50 L202.05,130.38 L201.11,131.24 L200.26,131.98 L199.68,132.50 Z" fill="#fbd8da" stroke="none" stroke-width="1" fill-opacity="0.85"/>
<path d="M199.68,128.70 L200.26,128.18 L201.11,127.44 L202.05,126.58 L202.95,125.70 L203.77,124.79 L204.59,123.80 L205.41,122.81 L206.22,121.90 L207.12,121.02 L208.07,120.16 L208.91,119.42 L209.50,118.90" fill="none" stroke="#e48c94" stroke-width="0.6" stroke-linejoin="round"/>
<path d="M199.68,132.50 L200.26,131.98 L201.11,131.24 L202.05,130.38 L202.95,129.50 L203.77,128.59 L204.59,127.60 L205.41,126.61 L206.22,125.70 L207.12,124.82 L208.07,123.96 L208.91,123.22 L209.50,122.70" fill="none" stroke="#e48c94" stroke-width="0.6" stroke-linejoin="round"/>
<path d="M199.68,130.60 L200.26,130.08 L201.11,129.34 L202.05,128.48 L202.95,127.60 L203.77,126.69 L204.59,125.70 L205.41,124.71 L206.22,123.80 L207.12,122.92 L208.07,122.06 L208.91,121.32 L209.50,120.80" fill="none" stroke="#e48c94" stroke-width="0.6" stroke-linejoin="round"/>
<path d="M209.50,120.80 L212.78,176.60" fill="none" stroke="#e48c94" stroke-width="0.6"/>
<path d="M222.60,176.60 L225.22,164.00 L225.56,163.46 L226.04,162.71 L226.60,161.72 L227.19,160.50 L227.76,158.86 L228.37,156.86 L229.04,154.86 L229.81,153.20 L230.68,151.97 L231.65,151.00 L232.68,150.20 L233.74,149.50 L234.82,148.88 L235.95,148.38 L237.11,148.01 L238.32,147.80 L239.58,147.80 L240.90,147.98 L242.23,148.25 L243.56,148.50 L244.99,148.75 L246.51,149.04 L247.86,149.31 L248.80,149.50 L248.80,155.70 L247.86,155.51 L246.51,155.24 L244.99,154.95 L243.56,154.70 L242.23,154.45 L240.90,154.18 L239.58,154.00 L238.32,154.00 L237.11,154.21 L235.95,154.59 L234.82,155.09 L233.74,155.70 L232.68,156.38 L231.65,157.16 L230.68,158.09 L229.81,159.20 L229.04,160.67 L228.37,162.41 L227.76,164.13 L227.19,165.50 L226.60,166.45 L226.04,167.14 L225.56,167.64 L225.22,168.00 L222.60,176.60 Z" fill="#fbd8da" stroke="none" stroke-width="1" fill-opacity="0.85"/>
<path d="M222.60,176.60 L225.22,164.00 L225.56,163.46 L226.04,162.71 L226.60,161.72 L227.19,160.50 L227.76,158.86 L228.37,156.86 L229.04,154.86 L229.81,153.20 L230.68,151.97 L231.65,151.00 L232.68,150.20 L233.74,149.50 L234.82,148.88 L235.95,148.38 L237.11,148.01 L238.32,147.80 L239.58,147.80 L240.90,147.98 L242.23,148.25 L243.56,148.50 L244.99,148.75 L246.51,149.04 L247.86,149.31 L248.80,149.50" fill="none" stroke="#e48c94" stroke-width="0.6" stroke-linejoin="round"/>
<path d="M222.60,176.60 L225.22,168.00 L225.56,167.64 L226.04,167.14 L226.60,166.45 L227.19,165.50 L227.76,164.13 L228.37,162.41 L229.04,160.67 L229.81,159.20 L230.68,158.09 L231.65,157.16 L232.68,156.38 L233.74,155.70 L234.82,155.09 L235.95,154.59 L237.11,154.21 L238.32,154.00 L239.58,154.00 L240.90,154.18 L242.23,154.45 L243.56,154.70 L244.99,154.95 L246.51,155.24 L247.86,155.51 L248.80,155.70" fill="none" stroke="#e48c94" stroke-width="0.6" stroke-linejoin="round"/>
<path d="M222.60,176.60 L225.22,166.00 L225.56,165.55 L226.04,164.92 L226.60,164.09 L227.19,163.00 L227.76,161.49 L228.37,159.64 L229.04,157.76 L229.81,156.20 L230.68,155.03 L231.65,154.08 L232.68,153.29 L233.74,152.60 L234.82,151.99 L235.95,151.48 L237.11,151.11 L238.32,150.90 L239.58,150.90 L240.90,151.08 L242.23,151.35 L243.56,151.60 L244.99,151.85 L246.51,152.14 L247.86,152.41 L248.80,152.60" fill="none" stroke="#e48c94" stroke-width="0.6" stroke-linejoin="round"/>
<path d="M199.68,125.70 L200.26,125.20 L201.11,124.49 L202.05,123.66 L202.95,122.80 L203.77,121.90 L204.59,120.93 L205.41,119.94 L206.22,119.00 L207.12,118.04 L208.07,117.06 L208.91,116.20 L209.50,115.60 L209.50,120.40 L208.91,121.04 L208.07,121.96 L207.12,123.00 L206.22,124.00 L205.41,124.96 L204.59,125.94 L203.77,126.91 L202.95,127.80 L202.05,128.66 L201.11,129.49 L200.26,130.20 L199.68,130.70 Z" fill="#c4f3c4" stroke="none" stroke-width="1" fill-opacity="0.85"/>
<path d="M199.68,125.70 L200.26,125.20 L201.11,124.49 L202.05,123.66 L202.95,122.80 L203.77,121.90 L204.59,120.93 L205.41,119.94 L206.22,119.00 L207.12,118.04 L208.07,117.06 L208.91,116.20 L209.50,115.60" fill="none" stroke="#72d872" stroke-width="0.6" stroke-linejoin="round"/>
<path d="M199.68,130.70 L200.26,130.20 L201.11,129.49 L202.05,128.66 L202.95,127.80 L203.77,126.91 L204.59,125.94 L205.41,124.96 L206.22,124.00 L207.12,123.00 L208.07,121.96 L208.91,121.04 L209.50,120.40" fill="none" stroke="#72d872" stroke-width="0.6" stroke-linejoin="round"/>
<path d="M199.68,128.20 L200.26,127.70 L201.11,126.99 L202.05,126.16 L202.95,125.30 L203.77,124.41 L204.59,123.44 L205.41,122.45 L206.22,121.50 L207.12,120.52 L208.07,119.51 L208.91,118.62 L209.50,118.00" fill="none" stroke="#72d872" stroke-width="0.6" stroke-linejoin="round"/>
<path d="M209.50,118.00 L212.78,176.60" fill="none" stroke="#72d872" stroke-width="0.6"/>
<path d="M222.60,176.60 L226.27,157.50 L226.89,156.45 L227.79,154.96 L228.81,153.17 L229.81,151.20 L230.74,148.85 L231.70,146.13 L232.70,143.50 L233.74,141.40 L234.82,140.01 L235.95,139.06 L237.11,138.39 L238.32,137.80 L239.58,137.31 L240.90,136.99 L242.23,136.78 L243.56,136.60 L244.99,136.45 L246.51,136.38 L247.86,136.33 L248.80,136.30 L248.80,141.70 L247.86,141.73 L246.51,141.78 L244.99,141.85 L243.56,142.00 L242.23,142.18 L240.90,142.39 L239.58,142.71 L238.32,143.20 L237.11,143.79 L235.95,144.47 L234.82,145.42 L233.74,146.80 L232.70,148.87 L231.70,151.47 L230.74,154.13 L229.81,156.40 L228.81,158.23 L227.79,159.85 L226.89,161.17 L226.27,162.10 L222.60,176.60 Z" fill="#c4f3c4" stroke="none" stroke-width="1" fill-opacity="0.85"/>
<path d="M222.60,176.60 L226.27,157.50 L226.89,156.45 L227.79,154.96 L228.81,153.17 L229.81,151.20 L230.74,148.85 L231.70,146.13 L232.70,143.50 L233.74,141.40 L234.82,140.01 L235.95,139.06 L237.11,138.39 L238.32,137.80 L239.58,137.31 L240.90,136.99 L242.23,136.78 L243.56,136.60 L244.99,136.45 L246.51,136.38 L247.86,136.33 L248.80,136.30" fill="none" stroke="#72d872" stroke-width="0.6" stroke-linejoin="round"/>
<path d="M222.60,176.60 L226.27,162.10 L226.89,161.17 L227.79,159.85 L228.81,158.23 L229.81,156.40 L230.74,154.13 L231.70,151.47 L232.70,148.87 L233.74,146.80 L234.82,145.42 L235.95,144.47 L237.11,143.79 L238.32,143.20 L239.58,142.71 L240.90,142.39 L242.23,142.18 L243.56,142.00 L244.99,141.85 L246.51,141.78 L247.86,141.73 L248.80,141.70" fill="none" stroke="#72d872" stroke-width="0.6" stroke-linejoin="round"/>
<path d="M222.60,176.60 L226.27,159.80 L226.89,158.81 L227.79,157.41 L228.81,155.70 L229.81,153.80 L230.74,151.49 L231.70,148.80 L232.70,146.18 L233.74,144.10 L234.82,142.71 L235.95,141.77 L237.11,141.09 L238.32,140.50 L239.58,140.01 L240.90,139.69 L242.23,139.48 L243.56,139.30 L244.99,139.15 L246.51,139.08 L247.86,139.03 L248.80,139.00" fill="none" stroke="#72d872" stroke-width="0.6" stroke-linejoin="round"/>
<circle cx="235.50" cy="138.60" r="1.15" fill="#1a1a1a" stroke="none" stroke-width="1"/>
<circle cx="239.20" cy="137.80" r="1.15" fill="#1a1a1a" stroke="none" stroke-width="1"/>
<circle cx="242.80" cy="137.40" r="1.15" fill="#1a1a1a" stroke="none" stroke-width="1"/>
<circle cx="246.30" cy="137.40" r="1.15" fill="#1a1a1a" stroke="none" stroke-width="1"/>
<circle cx="249.60" cy="137.40" r="1.15" fill="#1a1a1a" stroke="none" stroke-width="1"/>
<line x1="215.20" y1="98.50" x2="219.70" y2="98.50" stroke="#e48c94" stroke-width="0.9"/>
<text x="222.00" y="98.70" font-size="6.4" text-anchor="start" dominant-baseline="central" fill="#000" stroke="#000" stroke-width="0.25">C57BL/6J</text>
<line x1="215.20" y1="105.70" x2="219.70" y2="105.70" stroke="#72d872" stroke-width="0.9"/>
<text x="222.00" y="105.90" font-size="6.4" text-anchor="start" dominant-baseline="central" fill="#000" stroke="#000" stroke-width="0.25">Slit2-Tg</text>
<text x="1.20" y="191.35" font-size="6.8" text-anchor="start" dominant-baseline="central" fill="#000" font-weight="bold" stroke="#000" stroke-width="0.2">F</text>
<line x1="27.20" y1="208.00" x2="27.20" y2="274.60" stroke="#000" stroke-width="1.0"/>
<line x1="25.00" y1="208.00" x2="27.20" y2="208.00" stroke="#000" stroke-width="0.9"/>
<text x="24.80" y="208.30" font-size="6.7" text-anchor="end" dominant-baseline="central" fill="#000" stroke="#000" stroke-width="0.25">8000</text>
<line x1="25.00" y1="224.30" x2="27.20" y2="224.30" stroke="#000" stroke-width="0.9"/>
<text x="24.80" y="224.60" font-size="6.7" text-anchor="end" dominant-baseline="central" fill="#000" stroke="#000" stroke-width="0.25">6000</text>
<line x1="25.00" y1="240.80" x2="27.20" y2="240.80" stroke="#000" stroke-width="0.9"/>
<text x="24.80" y="241.10" font-size="6.7" text-anchor="end" dominant-baseline="central" fill="#000" stroke="#000" stroke-width="0.25">4000</text>
<line x1="25.00" y1="257.40" x2="27.20" y2="257.40" stroke="#000" stroke-width="0.9"/>
<text x="24.80" y="257.70" font-size="6.7" text-anchor="end" dominant-baseline="central" fill="#000" stroke="#000" stroke-width="0.25">2000</text>
<line x1="25.00" y1="274.00" x2="27.20" y2="274.00" stroke="#000" stroke-width="0.9"/>
<text x="24.80" y="274.30" font-size="6.7" text-anchor="end" dominant-baseline="central" fill="#000" stroke="#000" stroke-width="0.25">0</text>
<line x1="27.20" y1="274.60" x2="86.00" y2="274.60" stroke="#000" stroke-width="1.0"/>
<line x1="27.40" y1="274.60" x2="27.40" y2="276.40" stroke="#000" stroke-width="0.8"/>
<line x1="33.85" y1="274.60" x2="33.85" y2="275.70" stroke="#000" stroke-width="0.8"/>
<line x1="40.30" y1="274.60" x2="40.30" y2="276.40" stroke="#000" stroke-width="0.8"/>
<line x1="46.75" y1="274.60" x2="46.75" y2="275.70" stroke="#000" stroke-width="0.8"/>
<line x1="53.20" y1="274.60" x2="53.20" y2="276.40" stroke="#000" stroke-width="0.8"/>
<line x1="59.65" y1="274.60" x2="59.65" y2="275.70" stroke="#000" stroke-width="0.8"/>
<line x1="66.10" y1="274.60" x2="66.10" y2="276.40" stroke="#000" stroke-width="0.8"/>
<line x1="72.55" y1="274.60" x2="72.55" y2="275.70" stroke="#000" stroke-width="0.8"/>
<line x1="79.00" y1="274.60" x2="79.00" y2="276.40" stroke="#000" stroke-width="0.8"/>
<line x1="85.45" y1="274.60" x2="85.45" y2="275.70" stroke="#000" stroke-width="0.8"/>
<text x="27.40" y="280.00" font-size="6.7" text-anchor="middle" dominant-baseline="central" fill="#000" stroke="#000" stroke-width="0.25">0</text>
<text x="40.30" y="280.00" font-size="6.7" text-anchor="middle" dominant-baseline="central" fill="#000" stroke="#000" stroke-width="0.25">20</text>
<text x="53.20" y="280.00" font-size="6.7" text-anchor="middle" dominant-baseline="central" fill="#000" stroke="#000" stroke-width="0.25">40</text>
<text x="66.10" y="280.00" font-size="6.7" text-anchor="middle" dominant-baseline="central" fill="#000" stroke="#000" stroke-width="0.25">60</text>
<text x="79.00" y="280.00" font-size="6.7" text-anchor="middle" dominant-baseline="central" fill="#000" stroke="#000" stroke-width="0.25">80</text>
<text x="55.50" y="286.60" font-size="7.1" text-anchor="middle" dominant-baseline="central" fill="#000" font-weight="bold" stroke="#000" stroke-width="0.2" textLength="34.4" lengthAdjust="spacingAndGlyphs">Time(min)</text>
<text x="3.70" y="245.60" font-size="7.2" text-anchor="middle" dominant-baseline="central" fill="#000" font-weight="bold" stroke="#000" stroke-width="0.2" transform="rotate(-90 3.70 245.60)" textLength="95.5" lengthAdjust="spacingAndGlyphs">dp/dt max(mmHg*beat/min)</text>
<path d="M31.08,224.10 L31.56,223.95 L32.26,223.72 L33.06,223.47 L33.85,223.20 L34.62,222.92 L35.43,222.61 L36.26,222.30 L37.08,222.00 L37.96,221.69 L38.89,221.38 L39.72,221.10 L40.30,220.90 L40.30,224.50 L39.72,224.70 L38.89,224.98 L37.96,225.29 L37.08,225.60 L36.26,225.90 L35.43,226.21 L34.62,226.52 L33.85,226.80 L33.06,227.07 L32.26,227.33 L31.56,227.55 L31.08,227.70 Z" fill="#fbd8da" stroke="none" stroke-width="1" fill-opacity="0.85"/>
<path d="M31.08,224.10 L31.56,223.95 L32.26,223.72 L33.06,223.47 L33.85,223.20 L34.62,222.92 L35.43,222.61 L36.26,222.30 L37.08,222.00 L37.96,221.69 L38.89,221.38 L39.72,221.10 L40.30,220.90" fill="none" stroke="#e48c94" stroke-width="0.6" stroke-linejoin="round"/>
<path d="M31.08,227.70 L31.56,227.55 L32.26,227.33 L33.06,227.07 L33.85,226.80 L34.62,226.52 L35.43,226.21 L36.26,225.90 L37.08,225.60 L37.96,225.29 L38.89,224.98 L39.72,224.70 L40.30,224.50" fill="none" stroke="#e48c94" stroke-width="0.6" stroke-linejoin="round"/>
<path d="M31.08,225.90 L31.56,225.75 L32.26,225.53 L33.06,225.27 L33.85,225.00 L34.62,224.72 L35.43,224.41 L36.26,224.10 L37.08,223.80 L37.96,223.49 L38.89,223.18 L39.72,222.90 L40.30,222.70" fill="none" stroke="#e48c94" stroke-width="0.6" stroke-linejoin="round"/>
<path d="M40.30,222.70 L43.52,274.20" fill="none" stroke="#e48c94" stroke-width="0.6"/>
<path d="M53.20,274.20 L57.07,255.50 L57.53,254.69 L58.20,253.53 L58.94,252.18 L59.65,250.80 L60.28,249.30 L60.90,247.63 L61.54,246.05 L62.23,244.80 L62.96,243.99 L63.72,243.46 L64.54,243.11 L65.45,242.80 L66.39,242.54 L67.35,242.38 L68.49,242.28 L69.97,242.20 L72.12,242.14 L74.77,242.11 L77.27,242.11 L79.00,242.10 L79.00,247.70 L77.27,247.71 L74.77,247.71 L72.12,247.74 L69.97,247.80 L68.49,247.88 L67.35,247.98 L66.39,248.14 L65.45,248.40 L64.54,248.74 L63.72,249.14 L62.96,249.67 L62.23,250.40 L61.54,251.44 L60.90,252.72 L60.28,254.04 L59.65,255.20 L58.94,256.21 L58.20,257.15 L57.53,257.94 L57.07,258.50 L53.20,274.20 Z" fill="#fbd8da" stroke="none" stroke-width="1" fill-opacity="0.85"/>
<path d="M53.20,274.20 L57.07,255.50 L57.53,254.69 L58.20,253.53 L58.94,252.18 L59.65,250.80 L60.28,249.30 L60.90,247.63 L61.54,246.05 L62.23,244.80 L62.96,243.99 L63.72,243.46 L64.54,243.11 L65.45,242.80 L66.39,242.54 L67.35,242.38 L68.49,242.28 L69.97,242.20 L72.12,242.14 L74.77,242.11 L77.27,242.11 L79.00,242.10" fill="none" stroke="#e48c94" stroke-width="0.6" stroke-linejoin="round"/>
<path d="M53.20,274.20 L57.07,258.50 L57.53,257.94 L58.20,257.15 L58.94,256.21 L59.65,255.20 L60.28,254.04 L60.90,252.72 L61.54,251.44 L62.23,250.40 L62.96,249.67 L63.72,249.14 L64.54,248.74 L65.45,248.40 L66.39,248.14 L67.35,247.98 L68.49,247.88 L69.97,247.80 L72.12,247.74 L74.77,247.71 L77.27,247.71 L79.00,247.70" fill="none" stroke="#e48c94" stroke-width="0.6" stroke-linejoin="round"/>
<path d="M53.20,274.20 L57.07,257.00 L57.53,256.31 L58.20,255.34 L58.94,254.19 L59.65,253.00 L60.28,251.67 L60.90,250.18 L61.54,248.74 L62.23,247.60 L62.96,246.83 L63.72,246.30 L64.54,245.92 L65.45,245.60 L66.39,245.34 L67.35,245.18 L68.49,245.08 L69.97,245.00 L72.12,244.94 L74.77,244.91 L77.27,244.91 L79.00,244.90" fill="none" stroke="#e48c94" stroke-width="0.6" stroke-linejoin="round"/>
<path d="M31.08,227.70 L31.56,227.55 L32.26,227.33 L33.06,227.07 L33.85,226.80 L34.62,226.50 L35.43,226.16 L36.26,225.81 L37.08,225.50 L37.96,225.21 L38.89,224.92 L39.72,224.67 L40.30,224.50 L40.30,229.50 L39.72,229.67 L38.89,229.92 L37.96,230.21 L37.08,230.50 L36.26,230.81 L35.43,231.16 L34.62,231.50 L33.85,231.80 L33.06,232.07 L32.26,232.33 L31.56,232.55 L31.08,232.70 Z" fill="#c4f3c4" stroke="none" stroke-width="1" fill-opacity="0.85"/>
<path d="M31.08,227.70 L31.56,227.55 L32.26,227.33 L33.06,227.07 L33.85,226.80 L34.62,226.50 L35.43,226.16 L36.26,225.81 L37.08,225.50 L37.96,225.21 L38.89,224.92 L39.72,224.67 L40.30,224.50" fill="none" stroke="#72d872" stroke-width="0.6" stroke-linejoin="round"/>
<path d="M31.08,232.70 L31.56,232.55 L32.26,232.33 L33.06,232.07 L33.85,231.80 L34.62,231.50 L35.43,231.16 L36.26,230.81 L37.08,230.50 L37.96,230.21 L38.89,229.92 L39.72,229.67 L40.30,229.50" fill="none" stroke="#72d872" stroke-width="0.6" stroke-linejoin="round"/>
<path d="M31.08,230.20 L31.56,230.05 L32.26,229.83 L33.06,229.57 L33.85,229.30 L34.62,229.00 L35.43,228.66 L36.26,228.31 L37.08,228.00 L37.96,227.71 L38.89,227.42 L39.72,227.17 L40.30,227.00" fill="none" stroke="#72d872" stroke-width="0.6" stroke-linejoin="round"/>
<path d="M40.30,227.00 L43.52,274.20" fill="none" stroke="#72d872" stroke-width="0.6"/>
<path d="M53.20,274.20 L56.10,250.50 L56.57,250.18 L57.24,249.74 L58.02,249.06 L58.81,248.00 L59.62,246.38 L60.49,244.32 L61.37,242.15 L62.23,240.20 L63.02,238.48 L63.77,236.82 L64.56,235.36 L65.45,234.20 L66.39,233.39 L67.35,232.88 L68.49,232.57 L69.97,232.40 L72.12,232.44 L74.77,232.69 L77.27,233.00 L79.00,233.20 L79.00,238.80 L77.27,238.60 L74.77,238.29 L72.12,238.04 L69.97,238.00 L68.49,238.17 L67.35,238.48 L66.39,238.99 L65.45,239.80 L64.56,240.98 L63.77,242.46 L63.02,244.12 L62.23,245.80 L61.37,247.65 L60.49,249.68 L59.62,251.57 L58.81,253.00 L58.02,253.81 L57.24,254.20 L56.57,254.36 L56.10,254.50 L53.20,274.20 Z" fill="#c4f3c4" stroke="none" stroke-width="1" fill-opacity="0.85"/>
<path d="M53.20,274.20 L56.10,250.50 L56.57,250.18 L57.24,249.74 L58.02,249.06 L58.81,248.00 L59.62,246.38 L60.49,244.32 L61.37,242.15 L62.23,240.20 L63.02,238.48 L63.77,236.82 L64.56,235.36 L65.45,234.20 L66.39,233.39 L67.35,232.88 L68.49,232.57 L69.97,232.40 L72.12,232.44 L74.77,232.69 L77.27,233.00 L79.00,233.20" fill="none" stroke="#72d872" stroke-width="0.6" stroke-linejoin="round"/>
<path d="M53.20,274.20 L56.10,254.50 L56.57,254.36 L57.24,254.20 L58.02,253.81 L58.81,253.00 L59.62,251.57 L60.49,249.68 L61.37,247.65 L62.23,245.80 L63.02,244.12 L63.77,242.46 L64.56,240.98 L65.45,239.80 L66.39,238.99 L67.35,238.48 L68.49,238.17 L69.97,238.00 L72.12,238.04 L74.77,238.29 L77.27,238.60 L79.00,238.80" fill="none" stroke="#72d872" stroke-width="0.6" stroke-linejoin="round"/>
<path d="M53.20,274.20 L56.10,252.50 L56.57,252.27 L57.24,251.97 L58.02,251.43 L58.81,250.50 L59.62,248.98 L60.49,247.00 L61.37,244.90 L62.23,243.00 L63.02,241.30 L63.77,239.64 L64.56,238.17 L65.45,237.00 L66.39,236.19 L67.35,235.68 L68.49,235.37 L69.97,235.20 L72.12,235.24 L74.77,235.49 L77.27,235.80 L79.00,236.00" fill="none" stroke="#72d872" stroke-width="0.6" stroke-linejoin="round"/>
<circle cx="66.10" cy="230.00" r="1.15" fill="#1a1a1a" stroke="none" stroke-width="1"/>
<circle cx="69.50" cy="229.40" r="1.15" fill="#1a1a1a" stroke="none" stroke-width="1"/>
<circle cx="72.90" cy="229.30" r="1.15" fill="#1a1a1a" stroke="none" stroke-width="1"/>
<circle cx="76.30" cy="229.30" r="1.15" fill="#1a1a1a" stroke="none" stroke-width="1"/>
<circle cx="79.70" cy="229.30" r="1.15" fill="#1a1a1a" stroke="none" stroke-width="1"/>
<text x="84.40" y="195.25" font-size="6.8" text-anchor="start" dominant-baseline="central" fill="#000" font-weight="bold" stroke="#000" stroke-width="0.2">G</text>
<line x1="118.90" y1="217.30" x2="118.90" y2="284.40" stroke="#000" stroke-width="1.0"/>
<line x1="116.70" y1="217.30" x2="118.90" y2="217.30" stroke="#000" stroke-width="0.9"/>
<text x="116.40" y="217.60" font-size="6.7" text-anchor="end" dominant-baseline="central" fill="#000" stroke="#000" stroke-width="0.25">0</text>
<line x1="116.70" y1="239.80" x2="118.90" y2="239.80" stroke="#000" stroke-width="0.9"/>
<text x="116.40" y="240.10" font-size="6.7" text-anchor="end" dominant-baseline="central" fill="#000" stroke="#000" stroke-width="0.25">-2000</text>
<line x1="116.70" y1="262.10" x2="118.90" y2="262.10" stroke="#000" stroke-width="0.9"/>
<text x="116.40" y="262.40" font-size="6.7" text-anchor="end" dominant-baseline="central" fill="#000" stroke="#000" stroke-width="0.25">-4000</text>
<line x1="116.70" y1="284.40" x2="118.90" y2="284.40" stroke="#000" stroke-width="0.9"/>
<text x="116.40" y="284.70" font-size="6.7" text-anchor="end" dominant-baseline="central" fill="#000" stroke="#000" stroke-width="0.25">-6000</text>
<line x1="118.90" y1="217.30" x2="177.40" y2="217.30" stroke="#000" stroke-width="1.0"/>
<line x1="119.00" y1="215.50" x2="119.00" y2="217.30" stroke="#000" stroke-width="0.8"/>
<line x1="125.92" y1="216.20" x2="125.92" y2="217.30" stroke="#000" stroke-width="0.8"/>
<line x1="132.84" y1="215.50" x2="132.84" y2="217.30" stroke="#000" stroke-width="0.8"/>
<line x1="139.76" y1="216.20" x2="139.76" y2="217.30" stroke="#000" stroke-width="0.8"/>
<line x1="146.68" y1="215.50" x2="146.68" y2="217.30" stroke="#000" stroke-width="0.8"/>
<line x1="153.60" y1="216.20" x2="153.60" y2="217.30" stroke="#000" stroke-width="0.8"/>
<line x1="160.52" y1="215.50" x2="160.52" y2="217.30" stroke="#000" stroke-width="0.8"/>
<line x1="167.44" y1="216.20" x2="167.44" y2="217.30" stroke="#000" stroke-width="0.8"/>
<line x1="174.36" y1="215.50" x2="174.36" y2="217.30" stroke="#000" stroke-width="0.8"/>
<text x="119.00" y="212.40" font-size="6.7" text-anchor="middle" dominant-baseline="central" fill="#000" stroke="#000" stroke-width="0.25">0</text>
<text x="132.84" y="212.40" font-size="6.7" text-anchor="middle" dominant-baseline="central" fill="#000" stroke="#000" stroke-width="0.25">20</text>
<text x="146.68" y="212.40" font-size="6.7" text-anchor="middle" dominant-baseline="central" fill="#000" stroke="#000" stroke-width="0.25">40</text>
<text x="160.52" y="212.40" font-size="6.7" text-anchor="middle" dominant-baseline="central" fill="#000" stroke="#000" stroke-width="0.25">60</text>
<text x="174.36" y="212.40" font-size="6.7" text-anchor="middle" dominant-baseline="central" fill="#000" stroke="#000" stroke-width="0.25">80</text>
<text x="148.20" y="203.80" font-size="7.1" text-anchor="middle" dominant-baseline="central" fill="#000" font-weight="bold" stroke="#000" stroke-width="0.2">Time(min)</text>
<text x="90.80" y="247.20" font-size="7.2" text-anchor="middle" dominant-baseline="central" fill="#000" font-weight="bold" stroke="#000" stroke-width="0.2" transform="rotate(-90 90.80 247.20)" textLength="94.5" lengthAdjust="spacingAndGlyphs">dp/dt min(mmHg*beat/min)</text>
<path d="M122.46,261.60 L123.08,261.91 L123.97,262.35 L124.97,262.84 L125.92,263.30 L126.78,263.70 L127.65,264.10 L128.51,264.50 L129.38,264.90 L130.33,265.36 L131.33,265.85 L132.22,266.29 L132.84,266.60 L132.84,271.40 L132.22,271.09 L131.33,270.65 L130.33,270.16 L129.38,269.70 L128.51,269.30 L127.65,268.90 L126.78,268.50 L125.92,268.10 L124.97,267.64 L123.97,267.15 L123.08,266.71 L122.46,266.40 Z" fill="#c4f3c4" stroke="none" stroke-width="1" fill-opacity="0.85"/>
<path d="M122.46,261.60 L123.08,261.91 L123.97,262.35 L124.97,262.84 L125.92,263.30 L126.78,263.70 L127.65,264.10 L128.51,264.50 L129.38,264.90 L130.33,265.36 L131.33,265.85 L132.22,266.29 L132.84,266.60" fill="none" stroke="#72d872" stroke-width="0.6" stroke-linejoin="round"/>
<path d="M122.46,266.40 L123.08,266.71 L123.97,267.15 L124.97,267.64 L125.92,268.10 L126.78,268.50 L127.65,268.90 L128.51,269.30 L129.38,269.70 L130.33,270.16 L131.33,270.65 L132.22,271.09 L132.84,271.40" fill="none" stroke="#72d872" stroke-width="0.6" stroke-linejoin="round"/>
<path d="M122.46,264.00 L123.08,264.31 L123.97,264.75 L124.97,265.24 L125.92,265.70 L126.78,266.10 L127.65,266.50 L128.51,266.90 L129.38,267.30 L130.33,267.76 L131.33,268.25 L132.22,268.69 L132.84,269.00" fill="none" stroke="#72d872" stroke-width="0.6" stroke-linejoin="round"/>
<path d="M132.84,269.00 L136.30,217.60" fill="none" stroke="#72d872" stroke-width="0.6"/>
<path d="M146.68,217.60 L150.14,240.50 L150.51,241.14 L151.05,242.06 L151.65,243.08 L152.22,244.00 L152.72,244.81 L153.21,245.59 L153.72,246.33 L154.29,247.00 L154.92,247.59 L155.59,248.11 L156.30,248.57 L157.06,249.00 L157.80,249.37 L158.53,249.69 L159.40,249.99 L160.52,250.30 L162.01,250.64 L163.76,251.00 L165.63,251.33 L167.44,251.60 L169.33,251.79 L171.33,251.93 L173.12,252.03 L174.36,252.10 L174.36,260.50 L173.12,260.43 L171.33,260.33 L169.33,260.19 L167.44,260.00 L165.63,259.74 L163.76,259.43 L162.01,259.07 L160.52,258.70 L159.40,258.33 L158.53,257.96 L157.80,257.53 L157.06,257.00 L156.30,256.39 L155.59,255.71 L154.92,254.92 L154.29,254.00 L153.72,252.93 L153.21,251.72 L152.72,250.40 L152.22,249.00 L151.65,247.33 L151.05,245.44 L150.51,243.70 L150.14,242.50 L146.68,217.60 Z" fill="#c4f3c4" stroke="none" stroke-width="1" fill-opacity="0.85"/>
<path d="M146.68,217.60 L150.14,240.50 L150.51,241.14 L151.05,242.06 L151.65,243.08 L152.22,244.00 L152.72,244.81 L153.21,245.59 L153.72,246.33 L154.29,247.00 L154.92,247.59 L155.59,248.11 L156.30,248.57 L157.06,249.00 L157.80,249.37 L158.53,249.69 L159.40,249.99 L160.52,250.30 L162.01,250.64 L163.76,251.00 L165.63,251.33 L167.44,251.60 L169.33,251.79 L171.33,251.93 L173.12,252.03 L174.36,252.10" fill="none" stroke="#72d872" stroke-width="0.6" stroke-linejoin="round"/>
<path d="M146.68,217.60 L150.14,242.50 L150.51,243.70 L151.05,245.44 L151.65,247.33 L152.22,249.00 L152.72,250.40 L153.21,251.72 L153.72,252.93 L154.29,254.00 L154.92,254.92 L155.59,255.71 L156.30,256.39 L157.06,257.00 L157.80,257.53 L158.53,257.96 L159.40,258.33 L160.52,258.70 L162.01,259.07 L163.76,259.43 L165.63,259.74 L167.44,260.00 L169.33,260.19 L171.33,260.33 L173.12,260.43 L174.36,260.50" fill="none" stroke="#72d872" stroke-width="0.6" stroke-linejoin="round"/>
<path d="M146.68,217.60 L150.14,241.50 L150.51,242.42 L151.05,243.75 L151.65,245.20 L152.22,246.50 L152.72,247.61 L153.21,248.66 L153.72,249.63 L154.29,250.50 L154.92,251.25 L155.59,251.91 L156.30,252.48 L157.06,253.00 L157.80,253.45 L158.53,253.83 L159.40,254.16 L160.52,254.50 L162.01,254.86 L163.76,255.21 L165.63,255.54 L167.44,255.80 L169.33,255.99 L171.33,256.13 L173.12,256.23 L174.36,256.30" fill="none" stroke="#72d872" stroke-width="0.6" stroke-linejoin="round"/>
<path d="M122.46,257.90 L123.08,258.19 L123.97,258.59 L124.97,259.06 L125.92,259.50 L126.78,259.92 L127.65,260.34 L128.51,260.77 L129.38,261.20 L130.33,261.66 L131.33,262.16 L132.22,262.59 L132.84,262.90 L132.84,266.50 L132.22,266.19 L131.33,265.76 L130.33,265.26 L129.38,264.80 L128.51,264.37 L127.65,263.94 L126.78,263.52 L125.92,263.10 L124.97,262.66 L123.97,262.19 L123.08,261.79 L122.46,261.50 Z" fill="#fbd8da" stroke="none" stroke-width="1" fill-opacity="0.85"/>
<path d="M122.46,257.90 L123.08,258.19 L123.97,258.59 L124.97,259.06 L125.92,259.50 L126.78,259.92 L127.65,260.34 L128.51,260.77 L129.38,261.20 L130.33,261.66 L131.33,262.16 L132.22,262.59 L132.84,262.90" fill="none" stroke="#e48c94" stroke-width="0.6" stroke-linejoin="round"/>
<path d="M122.46,261.50 L123.08,261.79 L123.97,262.19 L124.97,262.66 L125.92,263.10 L126.78,263.52 L127.65,263.94 L128.51,264.37 L129.38,264.80 L130.33,265.26 L131.33,265.76 L132.22,266.19 L132.84,266.50" fill="none" stroke="#e48c94" stroke-width="0.6" stroke-linejoin="round"/>
<path d="M122.46,259.70 L123.08,259.99 L123.97,260.39 L124.97,260.86 L125.92,261.30 L126.78,261.72 L127.65,262.14 L128.51,262.57 L129.38,263.00 L130.33,263.46 L131.33,263.96 L132.22,264.39 L132.84,264.70" fill="none" stroke="#e48c94" stroke-width="0.6" stroke-linejoin="round"/>
<path d="M132.84,264.70 L136.30,217.60" fill="none" stroke="#e48c94" stroke-width="0.6"/>
<path d="M146.68,217.60 L150.14,239.30 L150.50,239.42 L151.00,239.59 L151.60,239.79 L152.22,240.00 L152.79,240.23 L153.38,240.48 L154.08,240.74 L154.98,241.00 L156.22,241.25 L157.71,241.49 L159.22,241.74 L160.52,242.00 L161.53,242.29 L162.38,242.61 L163.16,242.89 L163.98,243.10 L164.86,243.22 L165.75,243.29 L166.62,243.28 L167.44,243.20 L168.15,242.95 L168.78,242.58 L169.43,242.23 L170.21,242.10 L171.25,242.29 L172.46,242.68 L173.58,243.11 L174.36,243.40 L174.36,249.80 L173.58,249.51 L172.46,249.08 L171.25,248.69 L170.21,248.50 L169.43,248.63 L168.78,248.97 L168.15,249.35 L167.44,249.60 L166.62,249.68 L165.75,249.69 L164.86,249.62 L163.98,249.50 L163.16,249.30 L162.38,249.03 L161.53,248.72 L160.52,248.40 L159.22,248.09 L157.71,247.76 L156.22,247.40 L154.98,247.00 L154.08,246.56 L153.38,246.08 L152.79,245.56 L152.22,245.00 L151.60,244.31 L151.00,243.53 L150.50,242.80 L150.14,242.30 L146.68,217.60 Z" fill="#fbd8da" stroke="none" stroke-width="1" fill-opacity="0.85"/>
<path d="M146.68,217.60 L150.14,239.30 L150.50,239.42 L151.00,239.59 L151.60,239.79 L152.22,240.00 L152.79,240.23 L153.38,240.48 L154.08,240.74 L154.98,241.00 L156.22,241.25 L157.71,241.49 L159.22,241.74 L160.52,242.00 L161.53,242.29 L162.38,242.61 L163.16,242.89 L163.98,243.10 L164.86,243.22 L165.75,243.29 L166.62,243.28 L167.44,243.20 L168.15,242.95 L168.78,242.58 L169.43,242.23 L170.21,242.10 L171.25,242.29 L172.46,242.68 L173.58,243.11 L174.36,243.40" fill="none" stroke="#e48c94" stroke-width="0.6" stroke-linejoin="round"/>
<path d="M146.68,217.60 L150.14,242.30 L150.50,242.80 L151.00,243.53 L151.60,244.31 L152.22,245.00 L152.79,245.56 L153.38,246.08 L154.08,246.56 L154.98,247.00 L156.22,247.40 L157.71,247.76 L159.22,248.09 L160.52,248.40 L161.53,248.72 L162.38,249.03 L163.16,249.30 L163.98,249.50 L164.86,249.62 L165.75,249.69 L166.62,249.68 L167.44,249.60 L168.15,249.35 L168.78,248.97 L169.43,248.63 L170.21,248.50 L171.25,248.69 L172.46,249.08 L173.58,249.51 L174.36,249.80" fill="none" stroke="#e48c94" stroke-width="0.6" stroke-linejoin="round"/>
<path d="M146.68,217.60 L150.14,240.80 L150.50,241.11 L151.00,241.56 L151.60,242.05 L152.22,242.50 L152.79,242.90 L153.38,243.28 L154.08,243.65 L154.98,244.00 L156.22,244.32 L157.71,244.63 L159.22,244.91 L160.52,245.20 L161.53,245.51 L162.38,245.82 L163.16,246.10 L163.98,246.30 L164.86,246.42 L165.75,246.49 L166.62,246.48 L167.44,246.40 L168.15,246.15 L168.78,245.78 L169.43,245.43 L170.21,245.30 L171.25,245.49 L172.46,245.88 L173.58,246.31 L174.36,246.60" fill="none" stroke="#e48c94" stroke-width="0.6" stroke-linejoin="round"/>
<circle cx="157.00" cy="261.10" r="1.15" fill="#1a1a1a" stroke="none" stroke-width="1"/>
<circle cx="160.90" cy="261.80" r="1.15" fill="#1a1a1a" stroke="none" stroke-width="1"/>
<circle cx="164.70" cy="262.50" r="1.15" fill="#1a1a1a" stroke="none" stroke-width="1"/>
<circle cx="168.40" cy="263.20" r="1.15" fill="#1a1a1a" stroke="none" stroke-width="1"/>
<circle cx="171.60" cy="263.60" r="1.15" fill="#1a1a1a" stroke="none" stroke-width="1"/>
<circle cx="174.80" cy="264.00" r="1.15" fill="#1a1a1a" stroke="none" stroke-width="1"/>
<text x="184.40" y="204.95" font-size="6.8" text-anchor="start" dominant-baseline="central" fill="#000" font-weight="bold" stroke="#000" stroke-width="0.2">H</text>
<line x1="204.60" y1="209.70" x2="204.60" y2="279.00" stroke="#000" stroke-width="1.0"/>
<line x1="202.40" y1="278.60" x2="204.60" y2="278.60" stroke="#000" stroke-width="0.9"/>
<text x="202.20" y="278.90" font-size="6.7" text-anchor="end" dominant-baseline="central" fill="#000" stroke="#000" stroke-width="0.25">0</text>
<line x1="202.40" y1="255.63" x2="204.60" y2="255.63" stroke="#000" stroke-width="0.9"/>
<text x="202.20" y="255.93" font-size="6.7" text-anchor="end" dominant-baseline="central" fill="#000" stroke="#000" stroke-width="0.25">30</text>
<line x1="202.40" y1="232.66" x2="204.60" y2="232.66" stroke="#000" stroke-width="0.9"/>
<text x="202.20" y="232.96" font-size="6.7" text-anchor="end" dominant-baseline="central" fill="#000" stroke="#000" stroke-width="0.25">60</text>
<line x1="202.40" y1="209.70" x2="204.60" y2="209.70" stroke="#000" stroke-width="0.9"/>
<text x="202.20" y="210.00" font-size="6.7" text-anchor="end" dominant-baseline="central" fill="#000" stroke="#000" stroke-width="0.25">90</text>
<line x1="204.60" y1="278.80" x2="262.50" y2="278.80" stroke="#000" stroke-width="1.0"/>
<line x1="205.00" y1="278.80" x2="205.00" y2="280.60" stroke="#000" stroke-width="0.8"/>
<line x1="211.32" y1="278.80" x2="211.32" y2="279.90" stroke="#000" stroke-width="0.8"/>
<line x1="217.65" y1="278.80" x2="217.65" y2="280.60" stroke="#000" stroke-width="0.8"/>
<line x1="223.97" y1="278.80" x2="223.97" y2="279.90" stroke="#000" stroke-width="0.8"/>
<line x1="230.30" y1="278.80" x2="230.30" y2="280.60" stroke="#000" stroke-width="0.8"/>
<line x1="236.62" y1="278.80" x2="236.62" y2="279.90" stroke="#000" stroke-width="0.8"/>
<line x1="242.95" y1="278.80" x2="242.95" y2="280.60" stroke="#000" stroke-width="0.8"/>
<line x1="249.28" y1="278.80" x2="249.28" y2="279.90" stroke="#000" stroke-width="0.8"/>
<line x1="255.60" y1="278.80" x2="255.60" y2="280.60" stroke="#000" stroke-width="0.8"/>
<text x="205.00" y="283.00" font-size="6.7" text-anchor="middle" dominant-baseline="central" fill="#000" stroke="#000" stroke-width="0.25">0</text>
<text x="217.65" y="283.00" font-size="6.7" text-anchor="middle" dominant-baseline="central" fill="#000" stroke="#000" stroke-width="0.25">10</text>
<text x="230.30" y="283.00" font-size="6.7" text-anchor="middle" dominant-baseline="central" fill="#000" stroke="#000" stroke-width="0.25">20</text>
<text x="242.95" y="283.00" font-size="6.7" text-anchor="middle" dominant-baseline="central" fill="#000" stroke="#000" stroke-width="0.25">30</text>
<text x="255.60" y="283.00" font-size="6.7" text-anchor="middle" dominant-baseline="central" fill="#000" stroke="#000" stroke-width="0.25">40</text>
<text x="229.30" y="290.60" font-size="7.3" text-anchor="middle" dominant-baseline="central" fill="#000" font-weight="bold" stroke="#000" stroke-width="0.2" textLength="80.5" lengthAdjust="spacingAndGlyphs">Reperfusion Time(min)</text>
<text x="188.50" y="239.80" font-size="7.4" text-anchor="middle" dominant-baseline="central" fill="#000" font-weight="bold" stroke="#000" stroke-width="0.2" transform="rotate(-90 188.50 239.80)" textLength="60" lengthAdjust="spacingAndGlyphs">LVEDP(mmHg)</text>
<path d="M205.00,278.20 L211.32,221.85 L212.61,223.14 L214.42,224.97 L216.54,227.12 L218.80,229.34 L221.01,231.42 L222.96,233.10 L224.68,234.39 L226.32,235.49 L227.90,236.42 L229.46,237.25 L231.01,238.03 L232.58,238.80 L234.12,239.54 L235.61,240.21 L237.10,240.82 L238.63,241.39 L240.27,241.94 L242.06,242.50 L244.20,243.08 L246.67,243.68 L249.24,244.26 L251.67,244.78 L253.75,245.23 L255.22,245.55 L255.22,253.95 L253.75,253.55 L251.67,252.99 L249.24,252.33 L246.67,251.63 L244.20,250.93 L242.06,250.30 L240.27,249.74 L238.63,249.21 L237.10,248.70 L235.61,248.17 L234.12,247.61 L232.58,247.00 L231.01,246.38 L229.46,245.78 L227.90,245.14 L226.32,244.43 L224.68,243.60 L222.96,242.60 L221.01,241.29 L218.80,239.68 L216.54,237.95 L214.42,236.28 L212.61,234.85 L211.32,233.85 L205.00,278.20 Z" fill="#fbd8da" stroke="none" stroke-width="1" fill-opacity="0.85"/>
<path d="M205.00,278.20 L211.32,221.85 L212.61,223.14 L214.42,224.97 L216.54,227.12 L218.80,229.34 L221.01,231.42 L222.96,233.10 L224.68,234.39 L226.32,235.49 L227.90,236.42 L229.46,237.25 L231.01,238.03 L232.58,238.80 L234.12,239.54 L235.61,240.21 L237.10,240.82 L238.63,241.39 L240.27,241.94 L242.06,242.50 L244.20,243.08 L246.67,243.68 L249.24,244.26 L251.67,244.78 L253.75,245.23 L255.22,245.55" fill="none" stroke="#e48c94" stroke-width="0.6" stroke-linejoin="round"/>
<path d="M205.00,278.20 L211.32,233.85 L212.61,234.85 L214.42,236.28 L216.54,237.95 L218.80,239.68 L221.01,241.29 L222.96,242.60 L224.68,243.60 L226.32,244.43 L227.90,245.14 L229.46,245.78 L231.01,246.38 L232.58,247.00 L234.12,247.61 L235.61,248.17 L237.10,248.70 L238.63,249.21 L240.27,249.74 L242.06,250.30 L244.20,250.93 L246.67,251.63 L249.24,252.33 L251.67,252.99 L253.75,253.55 L255.22,253.95" fill="none" stroke="#e48c94" stroke-width="0.6" stroke-linejoin="round"/>
<path d="M205.00,278.20 L211.32,227.85 L212.61,229.00 L214.42,230.63 L216.54,232.53 L218.80,234.51 L221.01,236.35 L222.96,237.85 L224.68,239.00 L226.32,239.96 L227.90,240.78 L229.46,241.51 L231.01,242.21 L232.58,242.90 L234.12,243.57 L235.61,244.19 L237.10,244.76 L238.63,245.30 L240.27,245.84 L242.06,246.40 L244.20,247.01 L246.67,247.65 L249.24,248.29 L251.67,248.89 L253.75,249.39 L255.22,249.75" fill="none" stroke="#e48c94" stroke-width="0.6" stroke-linejoin="round"/>
<path d="M205.00,278.20 L211.32,235.00 L212.61,235.97 L214.42,237.34 L216.54,238.94 L218.80,240.63 L221.01,242.23 L222.96,243.60 L224.68,244.73 L226.32,245.75 L227.90,246.70 L229.46,247.59 L231.01,248.44 L232.58,249.30 L234.12,250.11 L235.61,250.85 L237.10,251.56 L238.63,252.28 L240.27,253.07 L242.06,253.95 L244.20,255.03 L246.67,256.29 L249.24,257.62 L251.67,258.87 L253.75,259.94 L255.22,260.70 L255.22,266.40 L253.75,265.75 L251.67,264.83 L249.24,263.75 L246.67,262.64 L244.20,261.60 L242.06,260.75 L240.27,260.14 L238.63,259.66 L237.10,259.27 L235.61,258.89 L234.12,258.46 L232.58,257.90 L231.01,257.22 L229.46,256.48 L227.90,255.68 L226.32,254.84 L224.68,253.97 L222.96,253.10 L221.01,252.14 L218.80,251.06 L216.54,249.95 L214.42,248.91 L212.61,248.03 L211.32,247.40 L205.00,278.20 Z" fill="#c4f3c4" stroke="none" stroke-width="1" fill-opacity="0.85"/>
<path d="M205.00,278.20 L211.32,235.00 L212.61,235.97 L214.42,237.34 L216.54,238.94 L218.80,240.63 L221.01,242.23 L222.96,243.60 L224.68,244.73 L226.32,245.75 L227.90,246.70 L229.46,247.59 L231.01,248.44 L232.58,249.30 L234.12,250.11 L235.61,250.85 L237.10,251.56 L238.63,252.28 L240.27,253.07 L242.06,253.95 L244.20,255.03 L246.67,256.29 L249.24,257.62 L251.67,258.87 L253.75,259.94 L255.22,260.70" fill="none" stroke="#72d872" stroke-width="0.6" stroke-linejoin="round"/>
<path d="M205.00,278.20 L211.32,247.40 L212.61,248.03 L214.42,248.91 L216.54,249.95 L218.80,251.06 L221.01,252.14 L222.96,253.10 L224.68,253.97 L226.32,254.84 L227.90,255.68 L229.46,256.48 L231.01,257.22 L232.58,257.90 L234.12,258.46 L235.61,258.89 L237.10,259.27 L238.63,259.66 L240.27,260.14 L242.06,260.75 L244.20,261.60 L246.67,262.64 L249.24,263.75 L251.67,264.83 L253.75,265.75 L255.22,266.40" fill="none" stroke="#72d872" stroke-width="0.6" stroke-linejoin="round"/>
<path d="M205.00,278.20 L211.32,241.20 L212.61,242.00 L214.42,243.12 L216.54,244.45 L218.80,245.84 L221.01,247.19 L222.96,248.35 L224.68,249.35 L226.32,250.30 L227.90,251.19 L229.46,252.03 L231.01,252.83 L232.58,253.60 L234.12,254.28 L235.61,254.87 L237.10,255.42 L238.63,255.97 L240.27,256.60 L242.06,257.35 L244.20,258.31 L246.67,259.46 L249.24,260.68 L251.67,261.85 L253.75,262.85 L255.22,263.55" fill="none" stroke="#72d872" stroke-width="0.6" stroke-linejoin="round"/>
<circle cx="223.20" cy="263.60" r="1.15" fill="#1a1a1a" stroke="none" stroke-width="1"/>
<circle cx="230.40" cy="266.00" r="1.15" fill="#1a1a1a" stroke="none" stroke-width="1"/>
<circle cx="236.90" cy="267.40" r="1.15" fill="#1a1a1a" stroke="none" stroke-width="1"/>
<circle cx="243.30" cy="268.00" r="1.15" fill="#1a1a1a" stroke="none" stroke-width="1"/>
<circle cx="249.80" cy="269.40" r="1.15" fill="#1a1a1a" stroke="none" stroke-width="1"/>
<circle cx="256.20" cy="271.30" r="1.15" fill="#1a1a1a" stroke="none" stroke-width="1"/>
<text x="261.40" y="117.35" font-size="6.8" text-anchor="start" dominant-baseline="central" fill="#000" font-weight="bold" stroke="#000" stroke-width="0.2">I</text>
<rect x="283.70" y="119.10" width="115.80" height="92.80" fill="#dadada" stroke="none" stroke-width="1"/>
<rect x="284.40" y="119.80" width="22.00" height="21.80" fill="#242424" stroke="none" stroke-width="1"/>
<path d="M304.10,131.00 L303.97,132.53 L303.61,134.01 L303.03,135.43 L302.25,136.76 L301.26,137.94 L300.07,138.93 L298.70,139.64 L297.22,140.04 L295.70,140.07 L294.23,139.75 L292.87,139.14 L291.68,138.30 L290.64,137.32 L289.74,136.24 L288.94,135.09 L288.24,133.84 L287.66,132.49 L287.27,131.00 L287.14,129.42 L287.33,127.81 L287.90,126.28 L288.80,124.93 L289.98,123.86 L291.35,123.10 L292.80,122.65 L294.26,122.47 L295.70,122.51 L297.09,122.72 L298.44,123.11 L299.74,123.67 L300.95,124.44 L302.04,125.43 L302.93,126.62 L303.59,127.99 L303.98,129.47 Z" fill="url(#gN)" stroke="none" stroke-width="1"/>
<circle cx="297.56" cy="133.54" r="0.79" fill="#cc4454" stroke="none" stroke-width="1"/>
<circle cx="295.36" cy="127.97" r="0.8" fill="#ee8a94" stroke="none" stroke-width="1"/>
<circle cx="298.38" cy="132.55" r="0.42" fill="#cc4454" stroke="none" stroke-width="1"/>
<circle cx="297.83" cy="130.22" r="0.55" fill="#cc4454" stroke="none" stroke-width="1"/>
<circle cx="296.04" cy="132.20" r="0.49" fill="#ee8a94" stroke="none" stroke-width="1"/>
<circle cx="291.15" cy="126.17" r="0.51" fill="#cc4454" stroke="none" stroke-width="1"/>
<circle cx="290.00" cy="128.85" r="0.81" fill="#ee8a94" stroke="none" stroke-width="1"/>
<circle cx="295.20" cy="130.30" r="0.4" fill="#ee8a94" stroke="none" stroke-width="1"/>
<circle cx="296.25" cy="127.06" r="0.5" fill="#cc4454" stroke="none" stroke-width="1"/>
<circle cx="297.06" cy="130.13" r="0.62" fill="#cc4454" stroke="none" stroke-width="1"/>
<rect x="307.60" y="119.80" width="21.60" height="21.80" fill="#242424" stroke="none" stroke-width="1"/>
<path d="M327.51,131.60 L327.24,133.12 L326.75,134.57 L326.08,135.92 L325.24,137.17 L324.24,138.32 L323.05,139.31 L321.68,140.07 L320.18,140.54 L318.60,140.66 L317.05,140.41 L315.60,139.85 L314.31,139.03 L313.19,138.04 L312.23,136.95 L311.38,135.77 L310.65,134.49 L310.06,133.11 L309.67,131.60 L309.57,130.01 L309.83,128.41 L310.47,126.91 L311.47,125.61 L312.73,124.61 L314.16,123.91 L315.65,123.50 L317.14,123.32 L318.60,123.30 L320.04,123.42 L321.48,123.69 L322.90,124.15 L324.26,124.85 L325.48,125.83 L326.47,127.06 L327.15,128.49 L327.50,130.03 Z" fill="url(#gN)" stroke="none" stroke-width="1"/>
<circle cx="317.40" cy="130.93" r="0.88" fill="#cc4454" stroke="none" stroke-width="1"/>
<circle cx="314.03" cy="132.56" r="0.51" fill="#ee8a94" stroke="none" stroke-width="1"/>
<circle cx="317.44" cy="136.33" r="0.51" fill="#cc4454" stroke="none" stroke-width="1"/>
<circle cx="319.83" cy="132.18" r="0.44" fill="#cc4454" stroke="none" stroke-width="1"/>
<circle cx="316.38" cy="134.07" r="0.56" fill="#cc4454" stroke="none" stroke-width="1"/>
<circle cx="317.39" cy="132.43" r="0.62" fill="#ee8a94" stroke="none" stroke-width="1"/>
<circle cx="323.05" cy="135.32" r="0.74" fill="#cc4454" stroke="none" stroke-width="1"/>
<circle cx="320.65" cy="129.72" r="0.59" fill="#ee8a94" stroke="none" stroke-width="1"/>
<circle cx="314.72" cy="134.26" r="0.4" fill="#ee8a94" stroke="none" stroke-width="1"/>
<circle cx="316.23" cy="131.07" r="0.41" fill="#cc4454" stroke="none" stroke-width="1"/>
<rect x="330.50" y="119.80" width="21.70" height="21.80" fill="#242424" stroke="none" stroke-width="1"/>
<path d="M350.96,135.71 L350.08,137.09 L348.89,138.22 L347.48,139.07 L345.93,139.64 L344.32,139.95 L342.69,140.03 L341.06,139.89 L339.46,139.55 L337.91,139.00 L336.45,138.22 L335.12,137.23 L333.98,136.05 L333.05,134.70 L332.38,133.24 L331.96,131.70 L331.82,130.13 L331.96,128.56 L332.38,127.05 L333.09,125.63 L334.10,124.38 L335.39,123.36 L336.90,122.65 L338.56,122.27 L340.27,122.24 L341.95,122.52 L343.54,123.05 L345.01,123.78 L346.35,124.65 L347.59,125.63 L348.74,126.73 L349.77,127.97 L350.63,129.36 L351.25,130.89 L351.54,132.52 L351.45,134.15 Z" fill="url(#gN)" stroke="none" stroke-width="1"/>
<circle cx="344.39" cy="134.78" r="0.48" fill="#cc4454" stroke="none" stroke-width="1"/>
<circle cx="339.15" cy="129.61" r="0.71" fill="#ee8a94" stroke="none" stroke-width="1"/>
<circle cx="345.50" cy="132.30" r="0.71" fill="#ee8a94" stroke="none" stroke-width="1"/>
<circle cx="345.68" cy="127.73" r="0.59" fill="#ee8a94" stroke="none" stroke-width="1"/>
<circle cx="345.91" cy="135.41" r="0.74" fill="#cc4454" stroke="none" stroke-width="1"/>
<circle cx="337.83" cy="132.57" r="0.51" fill="#ee8a94" stroke="none" stroke-width="1"/>
<circle cx="344.48" cy="134.76" r="0.72" fill="#cc4454" stroke="none" stroke-width="1"/>
<circle cx="341.52" cy="131.95" r="0.57" fill="#cc4454" stroke="none" stroke-width="1"/>
<circle cx="335.65" cy="130.98" r="0.62" fill="#ee8a94" stroke="none" stroke-width="1"/>
<circle cx="342.59" cy="130.65" r="0.5" fill="#ee8a94" stroke="none" stroke-width="1"/>
<ellipse cx="341.80" cy="130.50" rx="1.1" ry="0.7" fill="#9a2a3a" fill-opacity="0.8"/>
<rect x="353.60" y="119.80" width="21.70" height="21.80" fill="#242424" stroke="none" stroke-width="1"/>
<path d="M371.46,130.90 L371.48,132.48 L371.29,134.08 L370.84,135.66 L370.10,137.13 L369.06,138.41 L367.79,139.40 L366.35,140.06 L364.83,140.37 L363.30,140.37 L361.82,140.10 L360.40,139.60 L359.08,138.89 L357.85,137.99 L356.76,136.89 L355.86,135.60 L355.19,134.13 L354.80,132.54 L354.71,130.90 L354.92,129.28 L355.37,127.75 L356.04,126.32 L356.88,125.01 L357.88,123.84 L359.02,122.80 L360.32,121.95 L361.76,121.36 L363.30,121.08 L364.87,121.17 L366.38,121.66 L367.73,122.50 L368.88,123.63 L369.78,124.95 L370.46,126.38 L370.95,127.86 L371.28,129.36 Z" fill="url(#gN)" stroke="none" stroke-width="1"/>
<circle cx="366.41" cy="130.44" r="0.76" fill="#cc4454" stroke="none" stroke-width="1"/>
<circle cx="363.42" cy="131.47" r="0.7" fill="#ee8a94" stroke="none" stroke-width="1"/>
<circle cx="358.78" cy="135.42" r="0.84" fill="#ee8a94" stroke="none" stroke-width="1"/>
<circle cx="364.63" cy="131.73" r="0.81" fill="#ee8a94" stroke="none" stroke-width="1"/>
<circle cx="363.42" cy="131.70" r="0.46" fill="#ee8a94" stroke="none" stroke-width="1"/>
<circle cx="364.45" cy="133.71" r="0.77" fill="#cc4454" stroke="none" stroke-width="1"/>
<circle cx="358.65" cy="133.91" r="0.69" fill="#cc4454" stroke="none" stroke-width="1"/>
<circle cx="363.32" cy="133.68" r="0.69" fill="#cc4454" stroke="none" stroke-width="1"/>
<circle cx="360.89" cy="128.49" r="0.53" fill="#ee8a94" stroke="none" stroke-width="1"/>
<circle cx="364.75" cy="138.15" r="0.84" fill="#cc4454" stroke="none" stroke-width="1"/>
<rect x="376.60" y="119.80" width="22.20" height="21.80" fill="#242424" stroke="none" stroke-width="1"/>
<path d="M395.69,129.56 L395.59,130.76 L395.23,131.91 L394.68,132.99 L393.97,133.98 L393.15,134.89 L392.22,135.72 L391.16,136.47 L389.97,137.09 L388.65,137.53 L387.26,137.76 L385.85,137.73 L384.49,137.46 L383.25,136.96 L382.17,136.27 L381.26,135.45 L380.52,134.51 L379.96,133.49 L379.59,132.39 L379.44,131.24 L379.55,130.06 L379.93,128.91 L380.60,127.83 L381.51,126.88 L382.60,126.10 L383.82,125.51 L385.10,125.09 L386.41,124.81 L387.73,124.67 L389.06,124.65 L390.40,124.77 L391.73,125.07 L392.98,125.58 L394.07,126.32 L394.92,127.26 L395.47,128.37 Z" fill="url(#gI)" stroke="none" stroke-width="1"/>
<rect x="284.40" y="143.00" width="22.00" height="21.60" fill="#242424" stroke="none" stroke-width="1"/>
<path d="M304.79,153.90 L304.44,155.52 L303.91,157.04 L303.24,158.47 L302.44,159.83 L301.50,161.13 L300.37,162.32 L299.02,163.33 L297.48,164.05 L295.80,164.38 L294.09,164.26 L292.46,163.69 L291.01,162.73 L289.81,161.50 L288.86,160.10 L288.14,158.61 L287.60,157.08 L287.22,155.51 L287.00,153.90 L286.99,152.25 L287.24,150.58 L287.79,148.97 L288.65,147.51 L289.79,146.27 L291.14,145.30 L292.63,144.63 L294.20,144.25 L295.80,144.12 L297.40,144.24 L298.98,144.61 L300.49,145.24 L301.90,146.16 L303.10,147.37 L304.03,148.84 L304.63,150.48 L304.87,152.20 Z" fill="url(#gI)" stroke="none" stroke-width="1"/>
<ellipse cx="296.10" cy="153.10" rx="1.1" ry="0.7" fill="#9a2a3a" fill-opacity="0.8"/>
<rect x="307.60" y="143.00" width="21.60" height="21.60" fill="#242424" stroke="none" stroke-width="1"/>
<path d="M327.54,153.80 L327.47,155.03 L327.26,156.27 L326.86,157.54 L326.17,158.79 L325.13,159.93 L323.76,160.86 L322.11,161.49 L320.31,161.78 L318.50,161.72 L316.78,161.37 L315.21,160.80 L313.80,160.11 L312.53,159.32 L311.37,158.44 L310.32,157.46 L309.45,156.35 L308.83,155.12 L308.55,153.80 L308.65,152.45 L309.14,151.16 L309.97,149.98 L311.05,148.95 L312.31,148.08 L313.70,147.35 L315.19,146.76 L316.80,146.31 L318.50,146.04 L320.27,146.02 L322.02,146.29 L323.65,146.88 L325.04,147.75 L326.12,148.84 L326.85,150.06 L327.28,151.32 L327.49,152.57 Z" fill="url(#gI)" stroke="none" stroke-width="1"/>
<ellipse cx="318.80" cy="153.00" rx="1.1" ry="0.7" fill="#9a2a3a" fill-opacity="0.8"/>
<rect x="330.50" y="143.00" width="21.70" height="21.60" fill="#242424" stroke="none" stroke-width="1"/>
<path d="M350.33,157.00 L349.73,158.38 L348.87,159.62 L347.81,160.70 L346.59,161.64 L345.23,162.41 L343.73,163.01 L342.11,163.39 L340.39,163.47 L338.66,163.22 L337.02,162.62 L335.56,161.69 L334.37,160.51 L333.48,159.18 L332.86,157.78 L332.45,156.37 L332.21,154.97 L332.10,153.56 L332.13,152.12 L332.38,150.67 L332.90,149.23 L333.76,147.90 L334.96,146.79 L336.45,145.99 L338.13,145.56 L339.88,145.51 L341.59,145.78 L343.20,146.30 L344.68,147.00 L346.05,147.83 L347.30,148.79 L348.43,149.88 L349.39,151.12 L350.12,152.50 L350.54,153.99 L350.61,155.51 Z" fill="url(#gI)" stroke="none" stroke-width="1"/>
<ellipse cx="341.30" cy="153.70" rx="1.1" ry="0.7" fill="#9a2a3a" fill-opacity="0.8"/>
<rect x="353.60" y="143.00" width="21.70" height="21.60" fill="#242424" stroke="none" stroke-width="1"/>
<path d="M372.20,154.30 L372.26,155.74 L371.98,157.17 L371.34,158.50 L370.41,159.65 L369.26,160.57 L367.97,161.26 L366.60,161.73 L365.21,162.01 L363.80,162.12 L362.38,162.06 L360.97,161.79 L359.62,161.28 L358.39,160.51 L357.36,159.51 L356.57,158.32 L356.06,157.01 L355.81,155.66 L355.79,154.30 L355.94,152.96 L356.25,151.65 L356.73,150.37 L357.40,149.12 L358.30,147.98 L359.44,147.02 L360.79,146.32 L362.27,145.95 L363.80,145.95 L365.27,146.28 L366.61,146.87 L367.78,147.65 L368.81,148.54 L369.73,149.50 L370.55,150.54 L371.28,151.68 L371.85,152.93 Z" fill="url(#gI)" stroke="none" stroke-width="1"/>
<rect x="376.60" y="143.00" width="22.20" height="21.60" fill="#242424" stroke="none" stroke-width="1"/>
<path d="M394.48,148.35 L395.13,149.26 L395.48,150.36 L395.51,151.59 L395.26,152.87 L394.77,154.14 L394.10,155.36 L393.29,156.53 L392.35,157.63 L391.29,158.65 L390.09,159.56 L388.79,160.30 L387.42,160.82 L386.04,161.08 L384.74,161.05 L383.57,160.77 L382.57,160.28 L381.72,159.63 L381.02,158.86 L380.44,158.00 L380.00,157.03 L379.71,155.95 L379.65,154.74 L379.87,153.44 L380.41,152.12 L381.25,150.86 L382.34,149.73 L383.60,148.81 L384.94,148.11 L386.27,147.61 L387.58,147.28 L388.85,147.08 L390.09,146.99 L391.31,147.03 L392.49,147.25 L393.57,147.67 Z" fill="url(#gI)" stroke="none" stroke-width="1"/>
<rect x="284.40" y="166.00" width="22.00" height="22.00" fill="#242424" stroke="none" stroke-width="1"/>
<path d="M304.14,177.60 L304.20,179.12 L303.91,180.62 L303.27,182.02 L302.33,183.23 L301.18,184.21 L299.90,184.96 L298.54,185.49 L297.13,185.82 L295.70,185.95 L294.26,185.87 L292.85,185.53 L291.52,184.93 L290.35,184.06 L289.39,182.96 L288.67,181.71 L288.20,180.36 L287.94,178.98 L287.85,177.60 L287.90,176.21 L288.10,174.80 L288.48,173.38 L289.11,172.01 L290.02,170.75 L291.21,169.73 L292.62,169.04 L294.16,168.74 L295.70,168.84 L297.15,169.28 L298.45,169.96 L299.59,170.79 L300.60,171.70 L301.52,172.66 L302.38,173.70 L303.15,174.86 L303.76,176.16 Z" fill="url(#gN)" stroke="none" stroke-width="1"/>
<circle cx="294.45" cy="177.48" r="0.88" fill="#cc4454" stroke="none" stroke-width="1"/>
<circle cx="290.41" cy="174.24" r="0.45" fill="#cc4454" stroke="none" stroke-width="1"/>
<circle cx="295.98" cy="179.26" r="0.56" fill="#cc4454" stroke="none" stroke-width="1"/>
<circle cx="300.07" cy="175.88" r="0.56" fill="#ee8a94" stroke="none" stroke-width="1"/>
<circle cx="295.37" cy="179.02" r="0.65" fill="#ee8a94" stroke="none" stroke-width="1"/>
<circle cx="296.74" cy="178.53" r="0.84" fill="#cc4454" stroke="none" stroke-width="1"/>
<circle cx="300.46" cy="180.87" r="0.62" fill="#ee8a94" stroke="none" stroke-width="1"/>
<circle cx="297.24" cy="173.24" r="0.62" fill="#ee8a94" stroke="none" stroke-width="1"/>
<circle cx="290.37" cy="176.07" r="0.75" fill="#ee8a94" stroke="none" stroke-width="1"/>
<circle cx="298.04" cy="178.05" r="0.54" fill="#cc4454" stroke="none" stroke-width="1"/>
<rect x="307.60" y="166.00" width="21.60" height="22.00" fill="#242424" stroke="none" stroke-width="1"/>
<path d="M326.37,178.30 L326.34,179.72 L326.12,181.16 L325.67,182.59 L324.94,183.96 L323.91,185.17 L322.59,186.13 L321.06,186.75 L319.43,187.01 L317.80,186.92 L316.26,186.55 L314.84,185.98 L313.54,185.26 L312.35,184.44 L311.24,183.50 L310.24,182.42 L309.40,181.19 L308.81,179.80 L308.54,178.30 L308.62,176.77 L309.08,175.30 L309.85,173.96 L310.86,172.80 L312.05,171.83 L313.36,171.04 L314.77,170.43 L316.25,169.99 L317.80,169.77 L319.39,169.80 L320.95,170.13 L322.40,170.77 L323.67,171.69 L324.69,172.84 L325.44,174.13 L325.95,175.50 L326.24,176.89 Z" fill="url(#gN)" stroke="none" stroke-width="1"/>
<circle cx="321.39" cy="180.37" r="0.6" fill="#cc4454" stroke="none" stroke-width="1"/>
<circle cx="314.97" cy="175.96" r="0.87" fill="#ee8a94" stroke="none" stroke-width="1"/>
<circle cx="319.56" cy="175.96" r="0.74" fill="#cc4454" stroke="none" stroke-width="1"/>
<circle cx="319.31" cy="174.44" r="0.8" fill="#ee8a94" stroke="none" stroke-width="1"/>
<circle cx="312.23" cy="180.84" r="0.78" fill="#ee8a94" stroke="none" stroke-width="1"/>
<circle cx="318.13" cy="180.64" r="0.61" fill="#ee8a94" stroke="none" stroke-width="1"/>
<circle cx="322.10" cy="176.59" r="0.66" fill="#ee8a94" stroke="none" stroke-width="1"/>
<circle cx="316.50" cy="180.82" r="0.47" fill="#ee8a94" stroke="none" stroke-width="1"/>
<circle cx="314.27" cy="182.04" r="0.85" fill="#ee8a94" stroke="none" stroke-width="1"/>
<circle cx="321.82" cy="182.70" r="0.4" fill="#ee8a94" stroke="none" stroke-width="1"/>
<ellipse cx="318.10" cy="177.50" rx="1.1" ry="0.7" fill="#9a2a3a" fill-opacity="0.8"/>
<rect x="330.50" y="166.00" width="21.70" height="22.00" fill="#242424" stroke="none" stroke-width="1"/>
<path d="M351.10,176.60 L350.78,178.29 L350.11,179.85 L349.17,181.22 L348.05,182.39 L346.80,183.37 L345.47,184.18 L344.07,184.85 L342.58,185.37 L341.00,185.71 L339.34,185.80 L337.66,185.59 L336.02,185.05 L334.52,184.16 L333.26,182.96 L332.28,181.53 L331.64,179.94 L331.32,178.27 L331.30,176.60 L331.56,174.97 L332.08,173.42 L332.83,171.98 L333.80,170.69 L334.98,169.58 L336.33,168.68 L337.81,168.03 L339.39,167.63 L341.00,167.49 L342.62,167.59 L344.23,167.92 L345.78,168.49 L347.25,169.30 L348.59,170.37 L349.71,171.68 L350.54,173.20 L351.02,174.87 Z" fill="url(#gN)" stroke="none" stroke-width="1"/>
<circle cx="336.42" cy="176.32" r="0.55" fill="#cc4454" stroke="none" stroke-width="1"/>
<circle cx="340.24" cy="170.93" r="0.63" fill="#cc4454" stroke="none" stroke-width="1"/>
<circle cx="340.53" cy="172.17" r="0.45" fill="#ee8a94" stroke="none" stroke-width="1"/>
<circle cx="345.21" cy="175.81" r="0.59" fill="#cc4454" stroke="none" stroke-width="1"/>
<circle cx="342.58" cy="178.52" r="0.79" fill="#ee8a94" stroke="none" stroke-width="1"/>
<circle cx="335.33" cy="181.37" r="0.66" fill="#ee8a94" stroke="none" stroke-width="1"/>
<circle cx="344.99" cy="178.80" r="0.65" fill="#ee8a94" stroke="none" stroke-width="1"/>
<circle cx="345.35" cy="174.65" r="0.67" fill="#cc4454" stroke="none" stroke-width="1"/>
<circle cx="335.04" cy="181.07" r="0.74" fill="#ee8a94" stroke="none" stroke-width="1"/>
<circle cx="333.85" cy="178.61" r="0.7" fill="#ee8a94" stroke="none" stroke-width="1"/>
<ellipse cx="341.30" cy="175.80" rx="1.1" ry="0.7" fill="#9a2a3a" fill-opacity="0.8"/>
<rect x="353.60" y="166.00" width="21.70" height="22.00" fill="#242424" stroke="none" stroke-width="1"/>
<path d="M372.79,177.60 L372.54,179.31 L371.95,180.89 L371.10,182.26 L370.10,183.41 L369.00,184.37 L367.85,185.17 L366.64,185.83 L365.35,186.32 L364.00,186.60 L362.60,186.59 L361.22,186.27 L359.93,185.60 L358.79,184.65 L357.84,183.47 L357.08,182.14 L356.51,180.70 L356.10,179.18 L355.86,177.60 L355.83,175.96 L356.05,174.31 L356.57,172.73 L357.40,171.31 L358.51,170.17 L359.82,169.38 L361.23,168.97 L362.65,168.88 L364.00,169.03 L365.28,169.34 L366.52,169.74 L367.74,170.24 L368.97,170.88 L370.16,171.73 L371.24,172.85 L372.11,174.25 L372.65,175.87 Z" fill="url(#gN)" stroke="none" stroke-width="1"/>
<circle cx="364.53" cy="177.81" r="0.6" fill="#ee8a94" stroke="none" stroke-width="1"/>
<circle cx="364.20" cy="177.44" r="0.67" fill="#ee8a94" stroke="none" stroke-width="1"/>
<circle cx="364.62" cy="176.66" r="0.57" fill="#ee8a94" stroke="none" stroke-width="1"/>
<circle cx="364.00" cy="177.61" r="0.62" fill="#ee8a94" stroke="none" stroke-width="1"/>
<circle cx="363.63" cy="177.30" r="0.56" fill="#ee8a94" stroke="none" stroke-width="1"/>
<circle cx="364.50" cy="177.22" r="0.47" fill="#cc4454" stroke="none" stroke-width="1"/>
<circle cx="369.85" cy="178.49" r="0.69" fill="#ee8a94" stroke="none" stroke-width="1"/>
<circle cx="366.60" cy="172.77" r="0.57" fill="#cc4454" stroke="none" stroke-width="1"/>
<circle cx="365.06" cy="181.92" r="0.66" fill="#cc4454" stroke="none" stroke-width="1"/>
<circle cx="362.97" cy="180.29" r="0.78" fill="#ee8a94" stroke="none" stroke-width="1"/>
<ellipse cx="364.30" cy="176.80" rx="1.1" ry="0.7" fill="#9a2a3a" fill-opacity="0.8"/>
<rect x="376.60" y="166.00" width="22.20" height="22.00" fill="#242424" stroke="none" stroke-width="1"/>
<path d="M394.20,177.20 L394.15,178.26 L393.83,179.29 L393.27,180.22 L392.53,181.02 L391.65,181.68 L390.68,182.19 L389.65,182.56 L388.59,182.79 L387.50,182.87 L386.41,182.80 L385.35,182.55 L384.35,182.14 L383.45,181.57 L382.68,180.86 L382.06,180.05 L381.59,179.15 L381.28,178.19 L381.12,177.20 L381.13,176.18 L381.33,175.16 L381.73,174.18 L382.35,173.28 L383.17,172.52 L384.16,171.95 L385.25,171.60 L386.38,171.46 L387.50,171.53 L388.56,171.75 L389.55,172.08 L390.49,172.51 L391.36,173.03 L392.19,173.63 L392.93,174.36 L393.55,175.20 L394.00,176.16 Z" fill="url(#gI)" stroke="none" stroke-width="1"/>
<rect x="284.40" y="189.50" width="22.00" height="21.70" fill="#242424" stroke="none" stroke-width="1"/>
<path d="M304.82,200.50 L304.68,201.99 L304.30,203.45 L303.69,204.82 L302.84,206.07 L301.78,207.15 L300.54,208.01 L299.17,208.65 L297.71,209.06 L296.20,209.23 L294.67,209.16 L293.16,208.86 L291.70,208.30 L290.35,207.47 L289.18,206.39 L288.25,205.09 L287.63,203.62 L287.34,202.06 L287.37,200.50 L287.69,199.00 L288.25,197.61 L288.97,196.33 L289.84,195.17 L290.84,194.11 L291.97,193.17 L293.24,192.38 L294.66,191.79 L296.20,191.47 L297.79,191.48 L299.35,191.83 L300.81,192.52 L302.07,193.50 L303.10,194.71 L303.89,196.06 L304.43,197.51 L304.73,199.00 Z" fill="url(#gN)" stroke="none" stroke-width="1"/>
<circle cx="294.29" cy="200.26" r="0.77" fill="#cc4454" stroke="none" stroke-width="1"/>
<circle cx="296.11" cy="200.38" r="0.52" fill="#ee8a94" stroke="none" stroke-width="1"/>
<circle cx="300.78" cy="199.80" r="0.66" fill="#cc4454" stroke="none" stroke-width="1"/>
<circle cx="299.99" cy="203.46" r="0.73" fill="#ee8a94" stroke="none" stroke-width="1"/>
<circle cx="294.36" cy="202.76" r="0.88" fill="#ee8a94" stroke="none" stroke-width="1"/>
<circle cx="301.85" cy="201.49" r="0.83" fill="#ee8a94" stroke="none" stroke-width="1"/>
<circle cx="295.14" cy="193.69" r="0.6" fill="#cc4454" stroke="none" stroke-width="1"/>
<circle cx="292.51" cy="199.37" r="0.67" fill="#cc4454" stroke="none" stroke-width="1"/>
<circle cx="301.94" cy="197.34" r="0.46" fill="#cc4454" stroke="none" stroke-width="1"/>
<circle cx="297.01" cy="201.22" r="0.48" fill="#ee8a94" stroke="none" stroke-width="1"/>
<ellipse cx="296.50" cy="199.70" rx="1.1" ry="0.7" fill="#9a2a3a" fill-opacity="0.8"/>
<rect x="307.60" y="189.50" width="21.60" height="21.70" fill="#242424" stroke="none" stroke-width="1"/>
<path d="M326.82,201.20 L326.78,202.85 L326.44,204.49 L325.79,206.02 L324.84,207.37 L323.64,208.47 L322.27,209.29 L320.81,209.82 L319.30,210.11 L317.80,210.18 L316.30,210.07 L314.81,209.78 L313.34,209.27 L311.94,208.50 L310.67,207.45 L309.63,206.13 L308.90,204.58 L308.54,202.91 L308.54,201.20 L308.88,199.56 L309.47,198.03 L310.26,196.65 L311.19,195.41 L312.25,194.30 L313.44,193.32 L314.77,192.52 L316.24,191.95 L317.80,191.67 L319.40,191.74 L320.95,192.17 L322.37,192.92 L323.63,193.95 L324.67,195.18 L325.52,196.55 L326.16,198.02 L326.60,199.58 Z" fill="url(#gN)" stroke="none" stroke-width="1"/>
<circle cx="315.59" cy="206.51" r="0.44" fill="#ee8a94" stroke="none" stroke-width="1"/>
<circle cx="312.82" cy="205.48" r="0.57" fill="#ee8a94" stroke="none" stroke-width="1"/>
<circle cx="318.80" cy="201.96" r="0.75" fill="#ee8a94" stroke="none" stroke-width="1"/>
<circle cx="317.20" cy="197.94" r="0.64" fill="#ee8a94" stroke="none" stroke-width="1"/>
<circle cx="317.86" cy="201.58" r="0.48" fill="#ee8a94" stroke="none" stroke-width="1"/>
<circle cx="313.34" cy="198.18" r="0.72" fill="#cc4454" stroke="none" stroke-width="1"/>
<circle cx="317.79" cy="201.13" r="0.84" fill="#ee8a94" stroke="none" stroke-width="1"/>
<circle cx="317.22" cy="201.46" r="0.48" fill="#ee8a94" stroke="none" stroke-width="1"/>
<circle cx="322.55" cy="204.44" r="0.59" fill="#cc4454" stroke="none" stroke-width="1"/>
<circle cx="322.26" cy="200.73" r="0.5" fill="#ee8a94" stroke="none" stroke-width="1"/>
<ellipse cx="318.10" cy="200.40" rx="1.1" ry="0.7" fill="#9a2a3a" fill-opacity="0.8"/>
<rect x="330.50" y="189.50" width="21.70" height="21.70" fill="#242424" stroke="none" stroke-width="1"/>
<path d="M350.47,199.80 L350.30,201.23 L349.77,202.58 L348.93,203.80 L347.85,204.85 L346.60,205.72 L345.24,206.42 L343.80,206.97 L342.29,207.37 L340.70,207.62 L339.05,207.68 L337.38,207.48 L335.76,207.00 L334.29,206.23 L333.07,205.19 L332.16,203.95 L331.59,202.59 L331.34,201.19 L331.38,199.80 L331.64,198.45 L332.10,197.16 L332.75,195.93 L333.59,194.78 L334.66,193.74 L335.94,192.86 L337.41,192.20 L339.03,191.81 L340.70,191.70 L342.36,191.88 L343.94,192.30 L345.42,192.92 L346.76,193.72 L347.95,194.68 L348.96,195.78 L349.76,197.02 L350.28,198.38 Z" fill="url(#gN)" stroke="none" stroke-width="1"/>
<circle cx="338.06" cy="201.17" r="0.85" fill="#cc4454" stroke="none" stroke-width="1"/>
<circle cx="338.44" cy="204.89" r="0.88" fill="#cc4454" stroke="none" stroke-width="1"/>
<circle cx="348.06" cy="200.78" r="0.53" fill="#cc4454" stroke="none" stroke-width="1"/>
<circle cx="342.79" cy="203.04" r="0.6" fill="#cc4454" stroke="none" stroke-width="1"/>
<circle cx="341.44" cy="194.43" r="0.82" fill="#cc4454" stroke="none" stroke-width="1"/>
<circle cx="337.75" cy="197.47" r="0.79" fill="#cc4454" stroke="none" stroke-width="1"/>
<circle cx="341.51" cy="197.45" r="0.88" fill="#cc4454" stroke="none" stroke-width="1"/>
<circle cx="342.72" cy="204.60" r="0.67" fill="#cc4454" stroke="none" stroke-width="1"/>
<circle cx="342.31" cy="195.71" r="0.73" fill="#cc4454" stroke="none" stroke-width="1"/>
<circle cx="341.00" cy="200.15" r="0.54" fill="#ee8a94" stroke="none" stroke-width="1"/>
<ellipse cx="341.00" cy="199.00" rx="1.1" ry="0.7" fill="#9a2a3a" fill-opacity="0.8"/>
<rect x="353.60" y="189.50" width="21.70" height="21.70" fill="#242424" stroke="none" stroke-width="1"/>
<path d="M371.91,200.50 L371.70,201.96 L371.31,203.38 L370.77,204.76 L370.06,206.09 L369.15,207.35 L367.99,208.45 L366.61,209.31 L365.04,209.81 L363.40,209.91 L361.80,209.59 L360.34,208.91 L359.08,207.98 L358.03,206.90 L357.15,205.74 L356.39,204.55 L355.72,203.30 L355.15,201.95 L354.75,200.50 L354.61,198.95 L354.80,197.37 L355.36,195.86 L356.28,194.52 L357.48,193.44 L358.87,192.66 L360.37,192.16 L361.89,191.91 L363.40,191.87 L364.90,192.01 L366.37,192.34 L367.78,192.91 L369.09,193.72 L370.21,194.78 L371.08,196.07 L371.65,197.50 L371.91,199.00 Z" fill="url(#gN)" stroke="none" stroke-width="1"/>
<circle cx="360.01" cy="200.64" r="0.78" fill="#cc4454" stroke="none" stroke-width="1"/>
<circle cx="361.37" cy="203.76" r="0.71" fill="#cc4454" stroke="none" stroke-width="1"/>
<circle cx="368.38" cy="198.87" r="0.84" fill="#cc4454" stroke="none" stroke-width="1"/>
<circle cx="363.23" cy="202.50" r="0.4" fill="#ee8a94" stroke="none" stroke-width="1"/>
<circle cx="364.50" cy="202.19" r="0.47" fill="#ee8a94" stroke="none" stroke-width="1"/>
<circle cx="363.66" cy="198.23" r="0.73" fill="#cc4454" stroke="none" stroke-width="1"/>
<circle cx="362.38" cy="204.44" r="0.46" fill="#ee8a94" stroke="none" stroke-width="1"/>
<circle cx="363.22" cy="199.93" r="0.89" fill="#ee8a94" stroke="none" stroke-width="1"/>
<circle cx="368.29" cy="195.78" r="0.44" fill="#ee8a94" stroke="none" stroke-width="1"/>
<circle cx="361.77" cy="200.55" r="0.53" fill="#ee8a94" stroke="none" stroke-width="1"/>
<rect x="376.60" y="189.50" width="22.20" height="21.70" fill="#242424" stroke="none" stroke-width="1"/>
<path d="M395.54,201.00 L395.55,202.47 L395.24,203.92 L394.62,205.26 L393.74,206.43 L392.67,207.39 L391.48,208.15 L390.21,208.72 L388.88,209.12 L387.50,209.33 L386.09,209.32 L384.68,209.03 L383.36,208.45 L382.19,207.56 L381.26,206.43 L380.60,205.13 L380.21,203.75 L380.04,202.36 L380.04,201.00 L380.15,199.66 L380.38,198.31 L380.76,196.96 L381.33,195.63 L382.14,194.38 L383.23,193.33 L384.54,192.57 L386.00,192.20 L387.50,192.22 L388.93,192.60 L390.22,193.25 L391.35,194.08 L392.35,195.01 L393.23,196.01 L394.02,197.09 L394.71,198.28 L395.24,199.58 Z" fill="url(#gN)" stroke="none" stroke-width="1"/>
<circle cx="386.23" cy="201.13" r="0.89" fill="#cc4454" stroke="none" stroke-width="1"/>
<circle cx="387.36" cy="195.45" r="0.41" fill="#cc4454" stroke="none" stroke-width="1"/>
<circle cx="389.41" cy="202.65" r="0.65" fill="#ee8a94" stroke="none" stroke-width="1"/>
<circle cx="384.70" cy="200.15" r="0.42" fill="#ee8a94" stroke="none" stroke-width="1"/>
<circle cx="382.47" cy="200.47" r="0.76" fill="#ee8a94" stroke="none" stroke-width="1"/>
<circle cx="391.46" cy="198.23" r="0.74" fill="#ee8a94" stroke="none" stroke-width="1"/>
<circle cx="391.60" cy="196.61" r="0.59" fill="#cc4454" stroke="none" stroke-width="1"/>
<circle cx="392.64" cy="198.01" r="0.73" fill="#cc4454" stroke="none" stroke-width="1"/>
<circle cx="390.89" cy="205.29" r="0.76" fill="#ee8a94" stroke="none" stroke-width="1"/>
<circle cx="390.72" cy="196.71" r="0.88" fill="#cc4454" stroke="none" stroke-width="1"/>
<text x="269.90" y="141.70" font-size="7.7" text-anchor="middle" dominant-baseline="central" fill="#000" font-weight="bold" stroke="#000" stroke-width="0.2" transform="rotate(-90 269.90 141.70)" textLength="36" lengthAdjust="spacingAndGlyphs">C57BL/6J</text>
<line x1="274.00" y1="124.80" x2="274.00" y2="159.40" stroke="#000" stroke-width="0.85"/>
<text x="278.80" y="130.00" font-size="6.4" text-anchor="middle" dominant-baseline="central" fill="#000" font-weight="bold" stroke="#000" stroke-width="0.2" transform="rotate(-90 278.80 130.00)" textLength="18.5" lengthAdjust="spacingAndGlyphs">non-IR</text>
<text x="278.80" y="153.00" font-size="6.4" text-anchor="middle" dominant-baseline="central" fill="#000" font-weight="bold" stroke="#000" stroke-width="0.2" transform="rotate(-90 278.80 153.00)">IR</text>
<text x="269.90" y="188.00" font-size="7.7" text-anchor="middle" dominant-baseline="central" fill="#000" font-weight="bold" stroke="#000" stroke-width="0.2" transform="rotate(-90 269.90 188.00)" textLength="28.5" lengthAdjust="spacingAndGlyphs">Slit2-Tg</text>
<line x1="274.00" y1="172.50" x2="274.00" y2="205.70" stroke="#000" stroke-width="0.85"/>
<text x="278.80" y="178.50" font-size="6.4" text-anchor="middle" dominant-baseline="central" fill="#000" font-weight="bold" stroke="#000" stroke-width="0.2" transform="rotate(-90 278.80 178.50)" textLength="18.5" lengthAdjust="spacingAndGlyphs">non-IR</text>
<text x="278.80" y="198.50" font-size="6.4" text-anchor="middle" dominant-baseline="central" fill="#000" font-weight="bold" stroke="#000" stroke-width="0.2" transform="rotate(-90 278.80 198.50)">IR</text>
<text x="268.80" y="220.85" font-size="6.8" text-anchor="start" dominant-baseline="central" fill="#000" font-weight="bold" stroke="#000" stroke-width="0.2">J</text>
<line x1="298.90" y1="222.40" x2="298.90" y2="284.00" stroke="#000" stroke-width="1.0"/>
<line x1="296.70" y1="283.80" x2="298.90" y2="283.80" stroke="#000" stroke-width="0.9"/>
<text x="296.40" y="284.10" font-size="6.7" text-anchor="end" dominant-baseline="central" fill="#000" stroke="#000" stroke-width="0.25">0</text>
<line x1="296.70" y1="271.55" x2="298.90" y2="271.55" stroke="#000" stroke-width="0.9"/>
<text x="296.40" y="271.85" font-size="6.7" text-anchor="end" dominant-baseline="central" fill="#000" stroke="#000" stroke-width="0.25">5</text>
<line x1="296.70" y1="259.30" x2="298.90" y2="259.30" stroke="#000" stroke-width="0.9"/>
<text x="296.40" y="259.60" font-size="6.7" text-anchor="end" dominant-baseline="central" fill="#000" stroke="#000" stroke-width="0.25">10</text>
<line x1="296.70" y1="247.05" x2="298.90" y2="247.05" stroke="#000" stroke-width="0.9"/>
<text x="296.40" y="247.35" font-size="6.7" text-anchor="end" dominant-baseline="central" fill="#000" stroke="#000" stroke-width="0.25">15</text>
<line x1="296.70" y1="234.80" x2="298.90" y2="234.80" stroke="#000" stroke-width="0.9"/>
<text x="296.40" y="235.10" font-size="6.7" text-anchor="end" dominant-baseline="central" fill="#000" stroke="#000" stroke-width="0.25">20</text>
<line x1="296.70" y1="222.55" x2="298.90" y2="222.55" stroke="#000" stroke-width="0.9"/>
<text x="296.40" y="222.85" font-size="6.7" text-anchor="end" dominant-baseline="central" fill="#000" stroke="#000" stroke-width="0.25">25</text>
<line x1="298.90" y1="283.90" x2="397.00" y2="283.90" stroke="#000" stroke-width="1.25"/>
<text x="276.20" y="253.60" font-size="7.4" text-anchor="middle" dominant-baseline="central" fill="#000" font-weight="bold" stroke="#000" stroke-width="0.2" transform="rotate(-90 276.20 253.60)" textLength="41.2" lengthAdjust="spacingAndGlyphs">Infarct Size</text>
<text x="282.50" y="252.20" font-size="7.2" text-anchor="middle" dominant-baseline="central" fill="#000" font-weight="bold" stroke="#000" stroke-width="0.2" transform="rotate(-90 282.50 252.20)" textLength="58" lengthAdjust="spacingAndGlyphs">(% of total area)</text>
<rect x="306.80" y="273.40" width="14.70" height="10.50" fill="#fff" stroke="#f2a0a8" stroke-width="0.8"/>
<rect x="329.20" y="249.30" width="14.40" height="34.60" fill="#fff" stroke="#f2a0a8" stroke-width="0.8"/>
<rect x="351.60" y="276.00" width="14.20" height="7.90" fill="#fff" stroke="#a8eca8" stroke-width="0.8"/>
<rect x="373.60" y="266.00" width="14.30" height="17.90" fill="#fff" stroke="#a8eca8" stroke-width="0.8"/>
<circle cx="308.40" cy="274.00" r="1.25" fill="none" stroke="#c0505e" stroke-width="0.8"/>
<circle cx="311.20" cy="274.60" r="1.25" fill="none" stroke="#c0505e" stroke-width="0.8"/>
<circle cx="314.00" cy="275.40" r="1.25" fill="none" stroke="#c0505e" stroke-width="0.8"/>
<circle cx="316.80" cy="278.20" r="1.25" fill="none" stroke="#c0505e" stroke-width="0.8"/>
<circle cx="319.00" cy="278.00" r="1.25" fill="none" stroke="#c0505e" stroke-width="0.8"/>
<line x1="311.50" y1="275.40" x2="316.50" y2="275.40" stroke="#333" stroke-width="0.9"/>
<circle cx="332.50" cy="242.50" r="1.3" fill="#c8384c" stroke="none" stroke-width="1"/>
<circle cx="336.20" cy="240.90" r="1.3" fill="#c8384c" stroke="none" stroke-width="1"/>
<circle cx="339.90" cy="245.40" r="1.3" fill="#c8384c" stroke="none" stroke-width="1"/>
<circle cx="332.50" cy="257.90" r="1.3" fill="#c8384c" stroke="none" stroke-width="1"/>
<circle cx="340.10" cy="260.40" r="1.3" fill="#c8384c" stroke="none" stroke-width="1"/>
<line x1="336.20" y1="245.40" x2="336.20" y2="253.00" stroke="#000" stroke-width="0.8"/>
<line x1="333.70" y1="245.40" x2="338.70" y2="245.40" stroke="#000" stroke-width="0.8"/>
<line x1="333.70" y1="253.00" x2="338.70" y2="253.00" stroke="#000" stroke-width="0.8"/>
<line x1="332.20" y1="249.30" x2="340.20" y2="249.30" stroke="#000" stroke-width="0.9"/>
<circle cx="353.20" cy="276.40" r="1.25" fill="none" stroke="#2cc82c" stroke-width="0.85"/>
<circle cx="356.20" cy="276.90" r="1.25" fill="none" stroke="#2cc82c" stroke-width="0.85"/>
<circle cx="359.00" cy="277.60" r="1.25" fill="none" stroke="#2cc82c" stroke-width="0.85"/>
<circle cx="361.80" cy="278.50" r="1.25" fill="none" stroke="#2cc82c" stroke-width="0.85"/>
<circle cx="364.40" cy="279.20" r="1.25" fill="none" stroke="#2cc82c" stroke-width="0.85"/>
<line x1="355.00" y1="277.40" x2="362.00" y2="277.40" stroke="#333" stroke-width="0.9"/>
<circle cx="375.60" cy="265.30" r="1.45" fill="#22cc22" stroke="none" stroke-width="1"/>
<circle cx="378.40" cy="266.30" r="1.45" fill="#22cc22" stroke="none" stroke-width="1"/>
<circle cx="381.20" cy="266.70" r="1.45" fill="#22cc22" stroke="none" stroke-width="1"/>
<circle cx="383.80" cy="267.30" r="1.45" fill="#22cc22" stroke="none" stroke-width="1"/>
<circle cx="386.20" cy="268.30" r="1.45" fill="#22cc22" stroke="none" stroke-width="1"/>
<line x1="377.00" y1="266.60" x2="385.50" y2="266.60" stroke="#333" stroke-width="0.9"/>
<path d="M314.10,235.00 L314.10,233.90 L334.80,233.90 L334.80,235.00" fill="none" stroke="#000" stroke-width="0.9"/>
<path d="M324.20,227.30 L324.70,228.61 L326.10,228.68 L325.01,229.56 L325.38,230.92 L324.20,230.15 L323.02,230.92 L323.39,229.56 L322.30,228.68 L323.70,228.61 Z" fill="#111" stroke="none" stroke-width="1"/>
<path d="M336.90,232.60 L336.90,231.50 L381.00,231.50 L381.00,232.60" fill="none" stroke="#000" stroke-width="0.9"/>
<path d="M359.00,225.00 L359.50,226.31 L360.90,226.38 L359.81,227.26 L360.18,228.62 L359.00,227.85 L357.82,228.62 L358.19,227.26 L357.10,226.38 L358.50,226.31 Z" fill="#111" stroke="none" stroke-width="1"/>
<path d="M360.00,244.50 L360.00,243.40 L380.60,243.40 L380.60,244.50" fill="none" stroke="#000" stroke-width="0.9"/>
<path d="M370.25,237.10 L370.75,238.41 L372.15,238.48 L371.06,239.36 L371.43,240.72 L370.25,239.95 L369.07,240.72 L369.44,239.36 L368.35,238.48 L369.75,238.41 Z" fill="#111" stroke="none" stroke-width="1"/>
<text x="314.30" y="288.80" font-size="6.7" text-anchor="middle" dominant-baseline="central" fill="#000" font-weight="bold" stroke="#000" stroke-width="0.2">C57</text>
<text x="314.30" y="295.20" font-size="6.7" text-anchor="middle" dominant-baseline="central" fill="#000" font-weight="bold" stroke="#000" stroke-width="0.2">non-IR</text>
<text x="336.50" y="288.80" font-size="6.7" text-anchor="middle" dominant-baseline="central" fill="#000" font-weight="bold" stroke="#000" stroke-width="0.2">C57</text>
<text x="336.50" y="295.20" font-size="6.7" text-anchor="middle" dominant-baseline="central" fill="#000" font-weight="bold" stroke="#000" stroke-width="0.2">IR</text>
<text x="359.30" y="288.80" font-size="6.7" text-anchor="middle" dominant-baseline="central" fill="#000" font-weight="bold" stroke="#000" stroke-width="0.2">Slit2</text>
<text x="359.30" y="295.20" font-size="6.7" text-anchor="middle" dominant-baseline="central" fill="#000" font-weight="bold" stroke="#000" stroke-width="0.2">non-IR</text>
<text x="381.00" y="288.80" font-size="6.7" text-anchor="middle" dominant-baseline="central" fill="#000" font-weight="bold" stroke="#000" stroke-width="0.2">Slit2</text>
<text x="381.00" y="295.20" font-size="6.7" text-anchor="middle" dominant-baseline="central" fill="#000" font-weight="bold" stroke="#000" stroke-width="0.2">IR</text>
</svg>
</body></html>
